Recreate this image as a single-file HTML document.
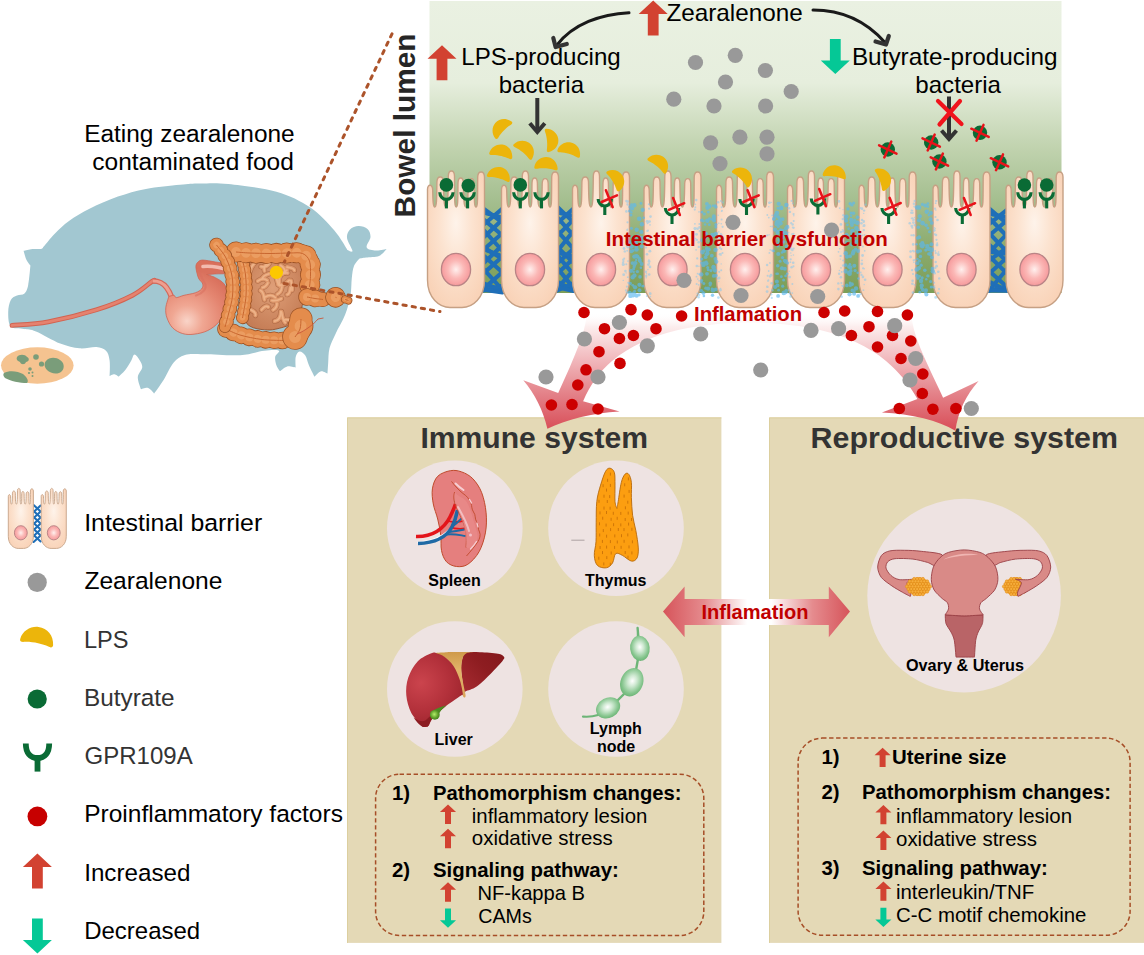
<!DOCTYPE html>
<html lang="en"><head><meta charset="utf-8"><title>Zearalenone gut figure</title>
<style>
html,body{margin:0;padding:0;background:#fff;}
svg{display:block;font-family:"Liberation Sans",Arial,sans-serif;}
.b{font-weight:700}
</style></head><body>
<svg width="1144" height="955" viewBox="0 0 1144 955">
<defs>
<linearGradient id="lum" x1="0" y1="0" x2="0" y2="1">
<stop offset="0" stop-color="#eaf1e2"/><stop offset="0.28" stop-color="#e6eedd"/><stop offset="0.50" stop-color="#c1d3af"/><stop offset="0.68" stop-color="#a5bf90"/><stop offset="0.85" stop-color="#8baa6d"/><stop offset="1" stop-color="#7b9e57"/>
</linearGradient>
<radialGradient id="cellg" cx="0.5" cy="0.42" r="0.62" fx="0.5" fy="0.38">
<stop offset="0" stop-color="#fef3ea"/><stop offset="0.45" stop-color="#fce3d0"/><stop offset="1" stop-color="#f9d3b8"/>
</radialGradient>
<radialGradient id="nucg" cx="0.5" cy="0.5" r="0.5">
<stop offset="0" stop-color="#fff0ee"/><stop offset="0.55" stop-color="#fbb8b6"/><stop offset="1" stop-color="#f69a9c"/>
</radialGradient>
<linearGradient id="arcg" gradientUnits="userSpaceOnUse" x1="0" y1="312" x2="0" y2="431">
<stop offset="0" stop-color="#ffffff" stop-opacity="0"/><stop offset="0.12" stop-color="#fceeee"/><stop offset="0.38" stop-color="#f2bcc0"/><stop offset="0.68" stop-color="#e4838a"/><stop offset="1" stop-color="#d84c56"/>
</linearGradient>
<linearGradient id="arrH" gradientUnits="userSpaceOnUse" x1="663" y1="0" x2="850" y2="0">
<stop offset="0" stop-color="#d6545a"/><stop offset="0.22" stop-color="#e58b8e"/><stop offset="0.45" stop-color="#ffffff"/><stop offset="0.58" stop-color="#ffffff"/><stop offset="0.8" stop-color="#e58b8e"/><stop offset="1" stop-color="#d6545a"/>
</linearGradient>
<g id="gpr" fill="none" stroke="#0a6b35" stroke-width="3.1" stroke-linecap="butt"><path d="M-6.65,-7.1 A6.65,7.1 0 0 0 6.65,-7.1"/><path d="M0,-0.5 V9"/></g>
<g id="rx" stroke="#e8131a" stroke-width="2.5" stroke-linecap="round"><path d="M-7.7,3.3 L7.7,-3.3"/><path d="M-3.4,-8.5 L3.4,8.5"/></g>
<path id="lps" d="M-11,2.8 C-10,-3 -5,-6.6 0,-6.6 C6,-6.6 10.6,-2 11,4.2 C11.2,5.9 9.5,6.3 8,5.6 C4,4.2 -3,3.5 -8,4.4 C-10,4.9 -11.3,4.3 -11,2.8 Z" fill="#ecb50b"/>
<path id="upA" d="M0,-17.5 L14.5,-4 H5.4 V17.5 H-5.4 V-4 H-14.5 Z" fill="#d24231"/>
<path id="dnA" d="M0,17.5 L14.5,4 H5.4 V-17.5 H-5.4 V4 H-14.5 Z" fill="#05c896"/>
</defs>

<path d="M10.8,326.6 C8.2,323.8 8.2,316.6 8.2,312.2 C8.2,307.8 9.3,302.8 10.8,300.0 C12.3,297.2 14.7,296.7 17.0,295.6 C19.3,294.5 22.6,295.3 24.5,293.5 C26.4,291.7 27.2,289.7 28.2,285.0 C29.2,280.3 30.4,265.5 30.4,265.5 C30.4,265.5 27.4,261.9 26.3,259.5 C25.2,257.1 23.6,250.8 23.6,250.8 C23.6,250.8 28.1,249.5 31.0,249.2 C33.9,248.9 39.0,249.3 41.0,249.0 C43.0,248.7 43.0,247.6 43.0,247.6 C43.0,247.6 50.7,238.0 55.0,233.6 C59.3,229.2 63.2,225.2 69.0,221.0 C74.8,216.8 81.8,212.6 90.0,208.5 C98.2,204.4 108.6,199.9 117.9,196.6 C127.2,193.3 135.6,190.9 145.9,188.9 C156.2,186.9 171.0,185.6 180.0,184.7 C189.0,183.8 192.0,183.6 200.0,183.5 C208.0,183.4 215.5,182.6 228.2,184.0 C240.9,185.4 262.8,187.8 276.4,191.7 C290.0,195.6 300.4,200.9 310.0,207.3 C319.6,213.7 327.9,223.1 334.2,230.2 C340.4,237.3 347.5,250.0 347.5,250.0 C347.5,250.0 352.6,253.0 352.5,251.0 C352.4,249.0 347.4,241.6 347.0,238.0 C346.6,234.4 348.1,231.5 350.0,229.5 C351.9,227.5 355.6,226.1 358.5,226.0 C361.4,225.9 365.5,227.2 367.5,229.0 C369.5,230.8 370.6,233.9 370.5,237.0 C370.4,240.1 365.8,245.2 366.7,247.5 C367.6,249.8 372.7,250.2 376.0,250.5 C379.3,250.8 386.5,249.0 386.5,249.0 C386.5,249.0 382.4,254.6 379.0,256.0 C375.6,257.4 369.2,257.1 366.0,257.5 C362.8,257.9 359.5,258.5 359.5,258.5 C359.5,258.5 355.3,262.8 354.0,266.0 C352.7,269.2 352.4,273.1 351.8,278.0 C351.2,282.9 351.6,289.2 350.5,295.3 C349.4,301.4 347.7,308.2 345.2,314.6 C342.7,321.0 338.1,328.3 335.5,333.9 C332.9,339.5 330.7,343.5 329.5,348.3 C328.3,353.1 328.5,358.6 328.2,362.8 C327.9,367.0 327.5,373.6 327.5,373.6 C327.5,373.6 323.2,370.7 321.0,371.2 C318.8,371.7 314.5,376.7 314.5,376.7 C314.5,376.7 310.4,368.7 308.9,365.2 C307.4,361.7 306.9,357.8 305.3,355.5 C303.7,353.2 301.1,351.2 299.5,351.5 C297.9,351.8 296.3,354.3 295.7,357.0 C295.1,359.7 295.7,367.6 295.7,367.6 C295.7,367.6 289.8,365.8 287.2,366.4 C284.6,367.0 280.0,371.2 280.0,371.2 C280.0,371.2 277.2,367.6 276.4,365.2 C275.6,362.8 274.8,359.1 275.2,356.7 C275.6,354.3 280.6,351.7 278.8,350.7 C277.0,349.7 270.7,349.9 264.3,350.7 C257.9,351.4 250.2,354.6 240.2,355.2 C230.1,355.8 213.2,354.3 204.0,354.3 C194.8,354.3 190.1,353.6 185.0,355.0 C179.9,356.4 177.0,358.7 173.5,362.8 C170.0,366.9 167.1,374.5 163.9,379.6 C160.7,384.7 154.2,393.6 154.2,393.6 C154.2,393.6 150.4,388.7 148.2,388.0 C146.0,387.3 141.0,389.3 141.0,389.3 C141.0,389.3 137.6,380.8 137.8,377.2 C138.0,373.6 141.9,370.4 142.2,367.6 C142.5,364.8 141.1,362.6 139.8,360.4 C138.5,358.2 135.9,354.5 134.5,354.5 C133.1,354.5 132.8,357.8 131.3,360.4 C129.8,363.0 127.4,367.3 125.3,370.0 C123.2,372.7 118.6,376.7 118.6,376.7 C118.6,376.7 116.0,374.4 114.5,374.3 C113.0,374.2 109.6,376.0 109.6,376.0 C109.6,376.0 110.2,364.6 109.6,360.4 C109.0,356.2 108.2,352.9 106.0,350.7 C103.8,348.5 100.8,347.4 96.4,347.0 C92.0,346.6 85.5,348.9 79.5,348.3 C73.5,347.7 67.5,346.3 60.2,343.5 C53.0,340.7 42.0,333.8 36.0,331.4 C30.0,329.0 28.2,329.8 24.0,329.0 C19.8,328.2 13.4,329.4 10.8,326.6 Z" fill="#a2c7d1"/>
<path d="M12.0,325.4 C18.0,324.8 34.1,324.4 48.2,321.8 C62.3,319.2 82.4,314.2 96.4,309.8 C110.5,305.4 123.2,300.1 132.5,295.3 C141.8,290.5 148.6,283.6 152.2,281.2 C155.8,278.8 153.7,281.0 154.0,281.0 " fill="none" stroke="#d26350" stroke-width="4.8" stroke-linecap="round"/>
<path d="M12.0,325.4 C18.0,324.8 34.1,324.4 48.2,321.8 C62.3,319.2 82.4,314.2 96.4,309.8 C110.5,305.4 123.2,300.1 132.5,295.3 C141.8,290.5 148.6,283.6 152.2,281.2 C155.8,278.8 153.7,281.0 154.0,281.0 " fill="none" stroke="#e5826f" stroke-width="2.8" stroke-linecap="round"/>
<ellipse cx="37.3" cy="365.5" rx="36.3" ry="18.2" fill="#f5c390"/>
<g fill="#7a9d7a"><path d="M17,357 C19,354 25,354 27,357 C30,358 29,362 26,362 C25,365 21,365 20,362 C17,361 16,359 17,357 Z"/><circle cx="36" cy="357" r="2.8"/><circle cx="41.5" cy="364" r="2.6"/><circle cx="30" cy="369" r="1.8"/><circle cx="29" cy="373" r="1.1"/><circle cx="32.5" cy="372.5" r="1"/><circle cx="32.5" cy="376" r="1"/><path d="M46,361 C49,357 56,357 60,360 C64,362 65,368 62,371 C58,375 51,374 47,370 C44,367 44,363 46,361 Z"/><path d="M4,373 C9,370 18,371 23,374 C27,377 29,381 27,383 C20,383 10,381 5,378 C3,376 3,374 4,373 Z"/></g>
<defs>
<radialGradient id="stg" gradientUnits="userSpaceOnUse" cx="187" cy="321" r="52"><stop offset="0" stop-color="#f9d4c8"/><stop offset="0.3" stop-color="#f0a793"/><stop offset="0.7" stop-color="#e48570"/><stop offset="1" stop-color="#d9705c"/></radialGradient>
<radialGradient id="sig" cx="0.5" cy="0.45" r="0.6"><stop offset="0" stop-color="#df9f78"/><stop offset="1" stop-color="#c47c55"/></radialGradient>
</defs>
<path d="M152.8,281 C158,280.8 163,283 166.5,287.5 C168.8,290.5 170.5,294 171.8,297.5" fill="none" stroke="#d4685a" stroke-width="5.4" stroke-linecap="butt"/>
<path d="M152.8,281 C158,280.8 163,283 166.5,287.5 C168.8,290.5 170.5,294 171.8,297.5" fill="none" stroke="#ee9f90" stroke-width="3.2" stroke-linecap="butt"/>
<path d="M173.9,295.3 C175.2,295.5 174.7,297.6 176.4,297.6 C178.1,297.6 180.8,296.1 184.0,295.3 C187.2,294.5 192.4,293.9 195.3,292.8 C198.2,291.8 200.3,290.5 201.6,289.0 C202.8,287.5 203.2,285.7 202.8,284.0 C202.4,282.3 199.9,280.7 199.0,279.0 C198.1,277.3 197.7,276.0 197.2,273.9 C196.7,271.8 195.8,268.4 195.9,266.4 C196.0,264.4 196.8,263.1 198.0,262.0 C199.2,260.9 199.9,260.1 202.8,260.1 C205.7,260.1 211.2,261.3 215.4,262.0 C219.6,262.7 225.3,263.2 227.9,264.5 C230.5,265.8 231.0,269.5 231.0,269.5 C231.0,269.5 230.5,272.6 227.9,273.3 C225.3,274.0 219.0,273.7 215.4,273.9 C211.8,274.1 206.6,274.5 206.6,274.5 C206.6,274.5 212.5,276.1 215.4,277.7 C218.3,279.3 222.0,281.1 224.2,284.0 C226.4,286.9 228.2,291.3 228.6,295.3 C229.0,299.3 228.3,303.4 226.7,307.8 C225.1,312.2 222.2,317.9 219.1,321.7 C215.9,325.5 212.0,328.4 207.8,330.5 C203.6,332.6 198.2,333.7 194.0,334.2 C189.8,334.7 186.2,334.7 182.7,333.6 C179.1,332.6 175.3,330.5 172.7,327.9 C170.1,325.3 168.2,321.2 167.0,317.9 C165.8,314.5 165.5,311.4 165.8,307.8 C166.1,304.2 168.9,296.5 168.9,296.5 C168.9,296.5 172.7,295.1 173.9,295.3 Z" fill="url(#stg)" stroke="#cf6453" stroke-width="0.8"/>
<path d="M203,266.5 C210,265.8 220,267.3 229,270.3" fill="none" stroke="#f5c3b8" stroke-width="3.6" stroke-linecap="round" opacity="0.9"/>
<path d="M199,268 C199.5,275 203,280 205.5,284.5 C206.5,289 203,293 196,295.5" fill="none" stroke="#d96f5f" stroke-width="2.2" stroke-linecap="round" opacity="0.55"/>
<path d="M244.0,256.0 C249.4,249.6 294.1,253.6 300.0,258.0 C305.9,262.4 303.4,293.6 303.0,300.0 C302.6,306.4 299.3,319.0 296.0,322.0 C292.7,325.0 275.0,330.0 270.0,330.0 C265.0,330.0 248.6,329.4 246.0,322.0 C243.4,314.6 238.6,262.4 244.0,256.0 Z" fill="url(#sig)" stroke="#8a4a2a" stroke-width="0.8"/>
<g fill="none" stroke-linecap="round"><g stroke="#9a5532" stroke-width="5.4" opacity="0.5"><path d="M260.5,290.5 Q263.5,291.6 264.5,299.7"/><path d="M249.8,309.4 Q256.5,312.2 255.4,315.4"/><path d="M290.4,287.6 Q289.9,294.0 287.2,294.6"/><path d="M276.9,303.6 Q277.1,307.5 273.1,309.9"/><path d="M269.5,262.9 Q267.0,267.9 261.0,266.7"/><path d="M281.6,312.1 Q283.0,320.8 285.2,322.6"/><path d="M287.0,267.1 Q294.4,268.2 294.3,270.4"/><path d="M279.7,276.3 Q278.4,281.4 279.5,285.2"/><path d="M280.9,311.5 Q280.6,320.3 274.6,321.2"/><path d="M286.9,270.1 Q284.8,273.2 276.2,275.1"/><path d="M287.7,273.0 Q281.7,272.0 279.1,277.9"/><path d="M284.3,319.9 Q288.9,318.6 294.9,322.9"/><path d="M268.3,307.0 Q265.8,304.7 261.6,309.8"/><path d="M289.2,280.4 Q283.7,286.5 278.1,284.7"/><path d="M266.7,264.1 Q263.2,266.8 264.5,270.9"/><path d="M273.2,271.5 Q277.4,275.9 284.5,273.0"/><path d="M290.9,280.5 Q292.6,286.1 292.0,290.1"/><path d="M281.3,298.7 Q276.1,301.3 271.9,300.5"/><path d="M267.2,280.4 Q262.8,276.9 257.7,281.1"/><path d="M265.2,296.9 Q271.3,293.7 275.3,297.5"/><path d="M281.9,286.8 Q281.3,292.4 277.3,294.2"/><path d="M256.1,261.5 Q251.0,266.2 249.9,271.6"/><path d="M276.3,278.0 Q277.0,282.6 279.9,285.8"/><path d="M267.9,282.9 Q265.8,287.1 262.5,287.6"/><path d="M269.0,273.8 Q263.1,275.6 262.3,278.5"/><path d="M280.4,265.3 Q285.4,268.5 285.0,272.7"/></g><g stroke="#e09a6e" stroke-width="4"><path d="M260.5,290.5 Q263.5,291.6 264.5,299.7"/><path d="M249.8,309.4 Q256.5,312.2 255.4,315.4"/><path d="M290.4,287.6 Q289.9,294.0 287.2,294.6"/><path d="M276.9,303.6 Q277.1,307.5 273.1,309.9"/><path d="M269.5,262.9 Q267.0,267.9 261.0,266.7"/><path d="M281.6,312.1 Q283.0,320.8 285.2,322.6"/><path d="M287.0,267.1 Q294.4,268.2 294.3,270.4"/><path d="M279.7,276.3 Q278.4,281.4 279.5,285.2"/><path d="M280.9,311.5 Q280.6,320.3 274.6,321.2"/><path d="M286.9,270.1 Q284.8,273.2 276.2,275.1"/><path d="M287.7,273.0 Q281.7,272.0 279.1,277.9"/><path d="M284.3,319.9 Q288.9,318.6 294.9,322.9"/><path d="M268.3,307.0 Q265.8,304.7 261.6,309.8"/><path d="M289.2,280.4 Q283.7,286.5 278.1,284.7"/><path d="M266.7,264.1 Q263.2,266.8 264.5,270.9"/><path d="M273.2,271.5 Q277.4,275.9 284.5,273.0"/><path d="M290.9,280.5 Q292.6,286.1 292.0,290.1"/><path d="M281.3,298.7 Q276.1,301.3 271.9,300.5"/><path d="M267.2,280.4 Q262.8,276.9 257.7,281.1"/><path d="M265.2,296.9 Q271.3,293.7 275.3,297.5"/><path d="M281.9,286.8 Q281.3,292.4 277.3,294.2"/><path d="M256.1,261.5 Q251.0,266.2 249.9,271.6"/><path d="M276.3,278.0 Q277.0,282.6 279.9,285.8"/><path d="M267.9,282.9 Q265.8,287.1 262.5,287.6"/><path d="M269.0,273.8 Q263.1,275.6 262.3,278.5"/><path d="M280.4,265.3 Q285.4,268.5 285.0,272.7"/></g><g stroke="#f0b88e" stroke-width="1.7" opacity="0.85"><path d="M260.5,290.5 Q263.5,291.6 264.5,299.7"/><path d="M249.8,309.4 Q256.5,312.2 255.4,315.4"/><path d="M290.4,287.6 Q289.9,294.0 287.2,294.6"/><path d="M276.9,303.6 Q277.1,307.5 273.1,309.9"/><path d="M269.5,262.9 Q267.0,267.9 261.0,266.7"/><path d="M281.6,312.1 Q283.0,320.8 285.2,322.6"/><path d="M287.0,267.1 Q294.4,268.2 294.3,270.4"/><path d="M279.7,276.3 Q278.4,281.4 279.5,285.2"/><path d="M280.9,311.5 Q280.6,320.3 274.6,321.2"/><path d="M286.9,270.1 Q284.8,273.2 276.2,275.1"/><path d="M287.7,273.0 Q281.7,272.0 279.1,277.9"/><path d="M284.3,319.9 Q288.9,318.6 294.9,322.9"/><path d="M268.3,307.0 Q265.8,304.7 261.6,309.8"/><path d="M289.2,280.4 Q283.7,286.5 278.1,284.7"/><path d="M266.7,264.1 Q263.2,266.8 264.5,270.9"/><path d="M273.2,271.5 Q277.4,275.9 284.5,273.0"/><path d="M290.9,280.5 Q292.6,286.1 292.0,290.1"/><path d="M281.3,298.7 Q276.1,301.3 271.9,300.5"/><path d="M267.2,280.4 Q262.8,276.9 257.7,281.1"/><path d="M265.2,296.9 Q271.3,293.7 275.3,297.5"/><path d="M281.9,286.8 Q281.3,292.4 277.3,294.2"/><path d="M256.1,261.5 Q251.0,266.2 249.9,271.6"/><path d="M276.3,278.0 Q277.0,282.6 279.9,285.8"/><path d="M267.9,282.9 Q265.8,287.1 262.5,287.6"/><path d="M269.0,273.8 Q263.1,275.6 262.3,278.5"/><path d="M280.4,265.3 Q285.4,268.5 285.0,272.7"/></g></g>
<path d="M242.0,258.0 C242.6,260.8 244.8,268.7 245.5,275.0 C246.2,281.3 246.5,288.8 246.0,296.0 C245.5,303.2 243.1,314.3 242.5,318.0 " fill="none" stroke="#9c5224" stroke-width="13.1" stroke-linecap="round" stroke-dasharray="0.01 6.0"/><path d="M242.0,258.0 C242.6,260.8 244.8,268.7 245.5,275.0 C246.2,281.3 246.5,288.8 246.0,296.0 C245.5,303.2 243.1,314.3 242.5,318.0 " fill="none" stroke="#9c5224" stroke-width="10.5" stroke-linecap="round"/><path d="M242.0,258.0 C242.6,260.8 244.8,268.7 245.5,275.0 C246.2,281.3 246.5,288.8 246.0,296.0 C245.5,303.2 243.1,314.3 242.5,318.0 " fill="none" stroke="#e48c4c" stroke-width="11.5" stroke-linecap="round" stroke-dasharray="0.01 6.0"/><path d="M242.0,258.0 C242.6,260.8 244.8,268.7 245.5,275.0 C246.2,281.3 246.5,288.8 246.0,296.0 C245.5,303.2 243.1,314.3 242.5,318.0 " fill="none" stroke="#e48c4c" stroke-width="9.1" stroke-linecap="round"/><path d="M242.0,258.0 C242.6,260.8 244.8,268.7 245.5,275.0 C246.2,281.3 246.5,288.8 246.0,296.0 C245.5,303.2 243.1,314.3 242.5,318.0 " fill="none" stroke="#f4b27c" stroke-width="5.8" stroke-linecap="round" stroke-dasharray="0.01 6.0" opacity="0.45"/><path d="M242.0,258.0 C242.6,260.8 244.8,268.7 245.5,275.0 C246.2,281.3 246.5,288.8 246.0,296.0 C245.5,303.2 243.1,314.3 242.5,318.0 " fill="none" stroke="#c4602a" stroke-width="1" opacity="0.9"/>
<path d="M226.0,329.0 C228.3,330.0 234.0,333.2 240.0,335.0 C246.0,336.8 254.8,338.6 262.0,339.5 C269.2,340.4 279.5,340.3 283.0,340.5 " fill="none" stroke="#9c5224" stroke-width="17.6" stroke-linecap="round" stroke-dasharray="0.01 8.3"/><path d="M226.0,329.0 C228.3,330.0 234.0,333.2 240.0,335.0 C246.0,336.8 254.8,338.6 262.0,339.5 C269.2,340.4 279.5,340.3 283.0,340.5 " fill="none" stroke="#9c5224" stroke-width="15" stroke-linecap="round"/><path d="M226.0,329.0 C228.3,330.0 234.0,333.2 240.0,335.0 C246.0,336.8 254.8,338.6 262.0,339.5 C269.2,340.4 279.5,340.3 283.0,340.5 " fill="none" stroke="#e48c4c" stroke-width="16" stroke-linecap="round" stroke-dasharray="0.01 8.3"/><path d="M226.0,329.0 C228.3,330.0 234.0,333.2 240.0,335.0 C246.0,336.8 254.8,338.6 262.0,339.5 C269.2,340.4 279.5,340.3 283.0,340.5 " fill="none" stroke="#e48c4c" stroke-width="13.6" stroke-linecap="round"/><path d="M226.0,329.0 C228.3,330.0 234.0,333.2 240.0,335.0 C246.0,336.8 254.8,338.6 262.0,339.5 C269.2,340.4 279.5,340.3 283.0,340.5 " fill="none" stroke="#f4b27c" stroke-width="8.0" stroke-linecap="round" stroke-dasharray="0.01 8.3" opacity="0.45"/><path d="M226.0,329.0 C228.3,330.0 234.0,333.2 240.0,335.0 C246.0,336.8 254.8,338.6 262.0,339.5 C269.2,340.4 279.5,340.3 283.0,340.5 " fill="none" stroke="#c4602a" stroke-width="1" opacity="0.9"/>
<path d="M295.0,337.0 C295.8,335.7 299.0,332.0 300.0,329.0 C301.0,326.0 300.8,320.7 301.0,319.0 " fill="none" stroke="#9c5224" stroke-width="25.6" stroke-linecap="round" stroke-dasharray="0.01 12.5"/><path d="M295.0,337.0 C295.8,335.7 299.0,332.0 300.0,329.0 C301.0,326.0 300.8,320.7 301.0,319.0 " fill="none" stroke="#9c5224" stroke-width="23" stroke-linecap="round"/><path d="M295.0,337.0 C295.8,335.7 299.0,332.0 300.0,329.0 C301.0,326.0 300.8,320.7 301.0,319.0 " fill="none" stroke="#e48c4c" stroke-width="24" stroke-linecap="round" stroke-dasharray="0.01 12.5"/><path d="M295.0,337.0 C295.8,335.7 299.0,332.0 300.0,329.0 C301.0,326.0 300.8,320.7 301.0,319.0 " fill="none" stroke="#e48c4c" stroke-width="21.6" stroke-linecap="round"/><path d="M295.0,337.0 C295.8,335.7 299.0,332.0 300.0,329.0 C301.0,326.0 300.8,320.7 301.0,319.0 " fill="none" stroke="#f4b27c" stroke-width="12.0" stroke-linecap="round" stroke-dasharray="0.01 12.5" opacity="0.45"/><path d="M295.0,337.0 C295.8,335.7 299.0,332.0 300.0,329.0 C301.0,326.0 300.8,320.7 301.0,319.0 " fill="none" stroke="#c4602a" stroke-width="1" opacity="0.9"/>
<path d="M236.0,252.0 C238.3,252.2 244.3,252.8 250.0,253.0 C255.7,253.2 263.3,253.5 270.0,253.5 C276.7,253.5 284.6,253.0 290.0,253.0 C295.4,253.0 299.2,252.2 302.5,253.5 C305.8,254.8 308.2,257.4 309.5,261.0 C310.8,264.6 310.5,270.7 310.5,275.0 C310.5,279.3 309.7,285.0 309.5,287.0 " fill="none" stroke="#9c5224" stroke-width="21.1" stroke-linecap="round" stroke-dasharray="0.01 10.1"/><path d="M236.0,252.0 C238.3,252.2 244.3,252.8 250.0,253.0 C255.7,253.2 263.3,253.5 270.0,253.5 C276.7,253.5 284.6,253.0 290.0,253.0 C295.4,253.0 299.2,252.2 302.5,253.5 C305.8,254.8 308.2,257.4 309.5,261.0 C310.8,264.6 310.5,270.7 310.5,275.0 C310.5,279.3 309.7,285.0 309.5,287.0 " fill="none" stroke="#9c5224" stroke-width="18.5" stroke-linecap="round"/><path d="M236.0,252.0 C238.3,252.2 244.3,252.8 250.0,253.0 C255.7,253.2 263.3,253.5 270.0,253.5 C276.7,253.5 284.6,253.0 290.0,253.0 C295.4,253.0 299.2,252.2 302.5,253.5 C305.8,254.8 308.2,257.4 309.5,261.0 C310.8,264.6 310.5,270.7 310.5,275.0 C310.5,279.3 309.7,285.0 309.5,287.0 " fill="none" stroke="#e48c4c" stroke-width="19.5" stroke-linecap="round" stroke-dasharray="0.01 10.1"/><path d="M236.0,252.0 C238.3,252.2 244.3,252.8 250.0,253.0 C255.7,253.2 263.3,253.5 270.0,253.5 C276.7,253.5 284.6,253.0 290.0,253.0 C295.4,253.0 299.2,252.2 302.5,253.5 C305.8,254.8 308.2,257.4 309.5,261.0 C310.8,264.6 310.5,270.7 310.5,275.0 C310.5,279.3 309.7,285.0 309.5,287.0 " fill="none" stroke="#e48c4c" stroke-width="17.1" stroke-linecap="round"/><path d="M236.0,252.0 C238.3,252.2 244.3,252.8 250.0,253.0 C255.7,253.2 263.3,253.5 270.0,253.5 C276.7,253.5 284.6,253.0 290.0,253.0 C295.4,253.0 299.2,252.2 302.5,253.5 C305.8,254.8 308.2,257.4 309.5,261.0 C310.8,264.6 310.5,270.7 310.5,275.0 C310.5,279.3 309.7,285.0 309.5,287.0 " fill="none" stroke="#f4b27c" stroke-width="9.8" stroke-linecap="round" stroke-dasharray="0.01 10.1" opacity="0.45"/><path d="M236.0,252.0 C238.3,252.2 244.3,252.8 250.0,253.0 C255.7,253.2 263.3,253.5 270.0,253.5 C276.7,253.5 284.6,253.0 290.0,253.0 C295.4,253.0 299.2,252.2 302.5,253.5 C305.8,254.8 308.2,257.4 309.5,261.0 C310.8,264.6 310.5,270.7 310.5,275.0 C310.5,279.3 309.7,285.0 309.5,287.0 " fill="none" stroke="#c4602a" stroke-width="1" opacity="0.9"/>
<path d="M307.0,297.0 C308.3,297.2 312.3,298.1 315.0,298.5 C317.7,298.9 321.7,299.3 323.0,299.5 " fill="none" stroke="#9c5224" stroke-width="17.6" stroke-linecap="round" stroke-dasharray="0.01 8.3"/><path d="M307.0,297.0 C308.3,297.2 312.3,298.1 315.0,298.5 C317.7,298.9 321.7,299.3 323.0,299.5 " fill="none" stroke="#9c5224" stroke-width="15" stroke-linecap="round"/><path d="M307.0,297.0 C308.3,297.2 312.3,298.1 315.0,298.5 C317.7,298.9 321.7,299.3 323.0,299.5 " fill="none" stroke="#e48c4c" stroke-width="16" stroke-linecap="round" stroke-dasharray="0.01 8.3"/><path d="M307.0,297.0 C308.3,297.2 312.3,298.1 315.0,298.5 C317.7,298.9 321.7,299.3 323.0,299.5 " fill="none" stroke="#e48c4c" stroke-width="13.6" stroke-linecap="round"/><path d="M307.0,297.0 C308.3,297.2 312.3,298.1 315.0,298.5 C317.7,298.9 321.7,299.3 323.0,299.5 " fill="none" stroke="#f4b27c" stroke-width="8.0" stroke-linecap="round" stroke-dasharray="0.01 8.3" opacity="0.45"/><path d="M307.0,297.0 C308.3,297.2 312.3,298.1 315.0,298.5 C317.7,298.9 321.7,299.3 323.0,299.5 " fill="none" stroke="#c4602a" stroke-width="1" opacity="0.9"/>
<path d="M335.5,297.3 C335.7,297.4 336.3,297.6 336.5,297.6 " fill="none" stroke="#9c5224" stroke-width="20.6" stroke-linecap="round" stroke-dasharray="0.01 9.9"/><path d="M335.5,297.3 C335.7,297.4 336.3,297.6 336.5,297.6 " fill="none" stroke="#9c5224" stroke-width="18" stroke-linecap="round"/><path d="M335.5,297.3 C335.7,297.4 336.3,297.6 336.5,297.6 " fill="none" stroke="#e48c4c" stroke-width="19" stroke-linecap="round" stroke-dasharray="0.01 9.9"/><path d="M335.5,297.3 C335.7,297.4 336.3,297.6 336.5,297.6 " fill="none" stroke="#e48c4c" stroke-width="16.6" stroke-linecap="round"/><path d="M335.5,297.3 C335.7,297.4 336.3,297.6 336.5,297.6 " fill="none" stroke="#f4b27c" stroke-width="9.5" stroke-linecap="round" stroke-dasharray="0.01 9.9" opacity="0.45"/><path d="M335.5,297.3 C335.7,297.4 336.3,297.6 336.5,297.6 " fill="none" stroke="#c4602a" stroke-width="1" opacity="0.9"/>
<path d="M345.0,299.3 C345.6,299.5 347.9,300.4 348.5,300.6 " fill="none" stroke="#9c5224" stroke-width="8.1" stroke-linecap="round" stroke-dasharray="0.01 3.4"/><path d="M345.0,299.3 C345.6,299.5 347.9,300.4 348.5,300.6 " fill="none" stroke="#9c5224" stroke-width="5.5" stroke-linecap="round"/><path d="M345.0,299.3 C345.6,299.5 347.9,300.4 348.5,300.6 " fill="none" stroke="#e48c4c" stroke-width="6.5" stroke-linecap="round" stroke-dasharray="0.01 3.4"/><path d="M345.0,299.3 C345.6,299.5 347.9,300.4 348.5,300.6 " fill="none" stroke="#e48c4c" stroke-width="4.1" stroke-linecap="round"/><path d="M345.0,299.3 C345.6,299.5 347.9,300.4 348.5,300.6 " fill="none" stroke="#f4b27c" stroke-width="3.2" stroke-linecap="round" stroke-dasharray="0.01 3.4" opacity="0.45"/><path d="M345.0,299.3 C345.6,299.5 347.9,300.4 348.5,300.6 " fill="none" stroke="#c4602a" stroke-width="1" opacity="0.9"/>
<path d="M216.5,245.0 C218.1,247.2 223.4,252.8 226.0,258.0 C228.6,263.2 230.9,269.7 232.0,276.0 C233.1,282.3 233.1,289.7 232.5,296.0 C231.9,302.3 229.8,308.8 228.5,314.0 C227.2,319.2 225.6,324.8 225.0,327.0 " fill="none" stroke="#9c5224" stroke-width="14.6" stroke-linecap="round" stroke-dasharray="0.01 6.8"/><path d="M216.5,245.0 C218.1,247.2 223.4,252.8 226.0,258.0 C228.6,263.2 230.9,269.7 232.0,276.0 C233.1,282.3 233.1,289.7 232.5,296.0 C231.9,302.3 229.8,308.8 228.5,314.0 C227.2,319.2 225.6,324.8 225.0,327.0 " fill="none" stroke="#9c5224" stroke-width="12" stroke-linecap="round"/><path d="M216.5,245.0 C218.1,247.2 223.4,252.8 226.0,258.0 C228.6,263.2 230.9,269.7 232.0,276.0 C233.1,282.3 233.1,289.7 232.5,296.0 C231.9,302.3 229.8,308.8 228.5,314.0 C227.2,319.2 225.6,324.8 225.0,327.0 " fill="none" stroke="#e48c4c" stroke-width="13" stroke-linecap="round" stroke-dasharray="0.01 6.8"/><path d="M216.5,245.0 C218.1,247.2 223.4,252.8 226.0,258.0 C228.6,263.2 230.9,269.7 232.0,276.0 C233.1,282.3 233.1,289.7 232.5,296.0 C231.9,302.3 229.8,308.8 228.5,314.0 C227.2,319.2 225.6,324.8 225.0,327.0 " fill="none" stroke="#e48c4c" stroke-width="10.6" stroke-linecap="round"/><path d="M216.5,245.0 C218.1,247.2 223.4,252.8 226.0,258.0 C228.6,263.2 230.9,269.7 232.0,276.0 C233.1,282.3 233.1,289.7 232.5,296.0 C231.9,302.3 229.8,308.8 228.5,314.0 C227.2,319.2 225.6,324.8 225.0,327.0 " fill="none" stroke="#f4b27c" stroke-width="6.5" stroke-linecap="round" stroke-dasharray="0.01 6.8" opacity="0.45"/><path d="M216.5,245.0 C218.1,247.2 223.4,252.8 226.0,258.0 C228.6,263.2 230.9,269.7 232.0,276.0 C233.1,282.3 233.1,289.7 232.5,296.0 C231.9,302.3 229.8,308.8 228.5,314.0 C227.2,319.2 225.6,324.8 225.0,327.0 " fill="none" stroke="#c4602a" stroke-width="1" opacity="0.9"/>
<path d="M297,334 C305,331 314,324 318,319 L323.5,318" fill="none" stroke="#c9583a" stroke-width="0.9"/>
<circle cx="276.4" cy="272.4" r="6.6" fill="#fcc800"/>
<g fill="none" stroke="#ac532a" stroke-width="3" stroke-linecap="round" stroke-dasharray="3.3 6"><path d="M392,33.8 L284.4,262"/><path d="M284,283.4 L440,311.6"/></g>
<g font-size="23" fill="#000">
<text x="84.2" y="141.5" textLength="210.5" lengthAdjust="spacingAndGlyphs">Eating zearalenone</text>
<text x="92.3" y="169.5" textLength="201.5" lengthAdjust="spacingAndGlyphs">contaminated food</text>
</g>

<rect x="429.5" y="1" width="632" height="292" fill="url(#lum)"/>
<g stroke="#1f6fb8" stroke-width="4.1" stroke-linecap="round" fill="none"><path d="M483.5,208.7 L502.5,222.5"/><path d="M502.5,208.5 L483.5,224.7"/><path d="M483.5,212.5 L502.5,217.7"/><path d="M483.5,219.4 L502.5,235.5"/><path d="M502.5,219.5 L483.5,237.4"/><path d="M483.5,229.8 L502.5,251.0"/><path d="M502.5,233.0 L483.5,249.8"/><path d="M483.5,247.3 L502.5,259.1"/><path d="M502.5,245.1 L483.5,263.3"/><path d="M483.5,249.1 L502.5,256.3"/><path d="M483.5,255.4 L502.5,272.5"/><path d="M502.5,256.5 L483.5,273.4"/><path d="M483.5,268.9 L502.5,290.0"/><path d="M502.5,272.0 L483.5,288.9"/><path d="M483.5,283.4 L502.5,290.5"/><path d="M502.5,285.8 L483.5,290.5"/><path d="M483.5,289.8 L502.5,292.4"/></g>
<g stroke="#1f6fb8" stroke-width="4.1" stroke-linecap="round" fill="none"><path d="M557.5,206.9 L573.5,222.4"/><path d="M573.5,208.4 L557.5,222.9"/><path d="M557.5,212.4 L573.5,215.9"/><path d="M557.5,217.6 L573.5,235.6"/><path d="M573.5,219.6 L557.5,235.6"/><path d="M557.5,231.1 L573.5,248.8"/><path d="M573.5,230.8 L557.5,251.1"/><path d="M557.5,247.2 L573.5,262.7"/><path d="M573.5,248.7 L557.5,263.2"/><path d="M557.5,252.7 L573.5,256.2"/><path d="M557.5,255.4 L573.5,274.6"/><path d="M573.5,258.6 L557.5,273.4"/><path d="M557.5,268.1 L573.5,288.1"/><path d="M573.5,270.1 L557.5,288.1"/><path d="M557.5,281.9 L573.5,290.5"/><path d="M573.5,283.2 L557.5,290.5"/><path d="M557.5,287.2 L573.5,290.9"/></g>
<g stroke="#1f6fb8" stroke-width="4.1" stroke-linecap="round" fill="none"><path d="M989.0,208.2 L1007.0,223.8"/><path d="M1007.0,209.8 L989.0,224.2"/><path d="M989.0,213.8 L1007.0,217.2"/><path d="M989.0,217.8 L1007.0,236.3"/><path d="M1007.0,220.3 L989.0,235.8"/><path d="M989.0,232.8 L1007.0,251.8"/><path d="M1007.0,233.8 L989.0,252.8"/><path d="M989.0,244.6 L1007.0,261.6"/><path d="M1007.0,247.6 L989.0,260.6"/><path d="M989.0,251.6 L1007.0,253.6"/><path d="M989.0,255.8 L1007.0,273.6"/><path d="M1007.0,257.6 L989.0,273.8"/><path d="M989.0,270.8 L1007.0,287.0"/><path d="M1007.0,269.0 L989.0,290.5"/><path d="M989.0,281.7 L1007.0,290.5"/><path d="M1007.0,286.5 L989.0,290.5"/><path d="M989.0,290.5 L1007.0,290.7"/></g>
<path d="M427.5,280 V189.3 C427.7,183.7 432.5,183.7 432.7,190.3 C432.9,199.0 432.9,207.0 434.8,207.0 C436.7,207.0 436.7,199.0 436.9,182.0 L436.9,182.0 C437.1,175.4 443.3,175.4 443.5,182.0 C443.7,199.0 444.0,207.0 445.9,207.0 C447.8,207.0 448.1,199.0 448.3,176.0 L448.3,176.0 C448.5,169.4 454.3,169.4 454.5,176.0 C454.7,199.0 454.4,207.0 456.2,207.0 C458.1,207.0 457.8,199.0 458.0,183.0 L458.0,183.0 C458.2,176.4 463.2,176.4 463.4,183.0 C463.6,199.0 463.9,207.0 465.8,207.0 C467.7,207.0 468.0,199.0 468.2,183.6 L468.2,183.6 C468.4,177.0 474.0,177.0 474.2,183.6 C474.4,199.0 474.1,207.0 476.0,207.0 C477.9,207.0 477.5,199.0 477.7,177.0 L477.7,177.0 C477.9,170.4 484.3,170.4 484.5,177.0 L484.5,280 C484.5,298 472.5,307.5 462.0,307.5 H450.0 C439.5,307.5 427.5,298 427.5,280 Z" fill="url(#cellg)" stroke="#c6a084" stroke-width="1.4" stroke-linejoin="round"/>
<ellipse cx="456.0" cy="269.5" rx="14.6" ry="16.2" fill="url(#nucg)" stroke="#b98486" stroke-width="1.3"/>
<path d="M501.5,280 V189.3 C501.7,183.7 506.5,183.7 506.7,190.3 C506.9,199.0 506.9,207.0 508.8,207.0 C510.7,207.0 510.7,199.0 510.9,182.0 L510.9,182.0 C511.1,175.4 517.3,175.4 517.5,182.0 C517.7,199.0 518.0,207.0 519.9,207.0 C521.8,207.0 522.1,199.0 522.3,176.0 L522.3,176.0 C522.5,169.4 528.3,169.4 528.5,176.0 C528.7,199.0 528.4,207.0 530.2,207.0 C532.1,207.0 531.8,199.0 532.0,183.0 L532.0,183.0 C532.2,176.4 537.2,176.4 537.4,183.0 C537.6,199.0 537.9,207.0 539.8,207.0 C541.7,207.0 542.0,199.0 542.2,183.6 L542.2,183.6 C542.4,177.0 548.0,177.0 548.2,183.6 C548.4,199.0 548.1,207.0 550.0,207.0 C551.9,207.0 551.5,199.0 551.7,177.0 L551.7,177.0 C551.9,170.4 558.3,170.4 558.5,177.0 L558.5,280 C558.5,298 546.5,307.5 536.0,307.5 H524.0 C513.5,307.5 501.5,298 501.5,280 Z" fill="url(#cellg)" stroke="#c6a084" stroke-width="1.4" stroke-linejoin="round"/>
<ellipse cx="530.0" cy="269.5" rx="14.6" ry="16.2" fill="url(#nucg)" stroke="#b98486" stroke-width="1.3"/>
<path d="M572.5,280 V189.3 C572.7,183.7 577.5,183.7 577.7,190.3 C577.9,199.0 577.9,207.0 579.8,207.0 C581.7,207.0 581.7,199.0 581.9,182.0 L581.9,182.0 C582.1,175.4 588.3,175.4 588.5,182.0 C588.7,199.0 589.0,207.0 590.9,207.0 C592.8,207.0 593.1,199.0 593.3,176.0 L593.3,176.0 C593.5,169.4 599.3,169.4 599.5,176.0 C599.7,199.0 599.4,207.0 601.2,207.0 C603.1,207.0 602.8,199.0 603.0,183.0 L603.0,183.0 C603.2,176.4 608.2,176.4 608.4,183.0 C608.6,199.0 608.9,207.0 610.8,207.0 C612.7,207.0 613.0,199.0 613.2,183.6 L613.2,183.6 C613.4,177.0 619.0,177.0 619.2,183.6 C619.4,199.0 619.1,207.0 621.0,207.0 C622.9,207.0 622.5,199.0 622.7,177.0 L622.7,177.0 C622.9,170.4 629.3,170.4 629.5,177.0 L629.5,280 C629.5,298 617.5,307.5 607.0,307.5 H595.0 C584.5,307.5 572.5,298 572.5,280 Z" fill="url(#cellg)" stroke="#c6a084" stroke-width="1.4" stroke-linejoin="round"/>
<ellipse cx="601.0" cy="269.5" rx="14.6" ry="16.2" fill="url(#nucg)" stroke="#b98486" stroke-width="1.3"/>
<path d="M644.0,280 V189.3 C644.2,183.7 649.0,183.7 649.2,190.3 C649.4,199.0 649.4,207.0 651.3,207.0 C653.2,207.0 653.2,199.0 653.4,182.0 L653.4,182.0 C653.6,175.4 659.8,175.4 660.0,182.0 C660.2,199.0 660.5,207.0 662.4,207.0 C664.3,207.0 664.6,199.0 664.8,176.0 L664.8,176.0 C665.0,169.4 670.8,169.4 671.0,176.0 C671.2,199.0 670.9,207.0 672.8,207.0 C674.6,207.0 674.3,199.0 674.5,183.0 L674.5,183.0 C674.7,176.4 679.7,176.4 679.9,183.0 C680.1,199.0 680.4,207.0 682.3,207.0 C684.2,207.0 684.5,199.0 684.7,183.6 L684.7,183.6 C684.9,177.0 690.5,177.0 690.7,183.6 C690.9,199.0 690.6,207.0 692.5,207.0 C694.4,207.0 694.0,199.0 694.2,177.0 L694.2,177.0 C694.4,170.4 700.8,170.4 701.0,177.0 L701.0,280 C701.0,298 689.0,307.5 678.5,307.5 H666.5 C656.0,307.5 644.0,298 644.0,280 Z" fill="url(#cellg)" stroke="#c6a084" stroke-width="1.4" stroke-linejoin="round"/>
<ellipse cx="672.5" cy="269.5" rx="14.6" ry="16.2" fill="url(#nucg)" stroke="#b98486" stroke-width="1.3"/>
<path d="M716.5,280 V189.3 C716.7,183.7 721.5,183.7 721.7,190.3 C721.9,199.0 721.9,207.0 723.8,207.0 C725.7,207.0 725.7,199.0 725.9,182.0 L725.9,182.0 C726.1,175.4 732.3,175.4 732.5,182.0 C732.7,199.0 733.0,207.0 734.9,207.0 C736.8,207.0 737.1,199.0 737.3,176.0 L737.3,176.0 C737.5,169.4 743.3,169.4 743.5,176.0 C743.7,199.0 743.4,207.0 745.2,207.0 C747.1,207.0 746.8,199.0 747.0,183.0 L747.0,183.0 C747.2,176.4 752.2,176.4 752.4,183.0 C752.6,199.0 752.9,207.0 754.8,207.0 C756.7,207.0 757.0,199.0 757.2,183.6 L757.2,183.6 C757.4,177.0 763.0,177.0 763.2,183.6 C763.4,199.0 763.1,207.0 765.0,207.0 C766.9,207.0 766.5,199.0 766.7,177.0 L766.7,177.0 C766.9,170.4 773.3,170.4 773.5,177.0 L773.5,280 C773.5,298 761.5,307.5 751.0,307.5 H739.0 C728.5,307.5 716.5,298 716.5,280 Z" fill="url(#cellg)" stroke="#c6a084" stroke-width="1.4" stroke-linejoin="round"/>
<ellipse cx="745.0" cy="269.5" rx="14.6" ry="16.2" fill="url(#nucg)" stroke="#b98486" stroke-width="1.3"/>
<path d="M787.5,280 V189.3 C787.7,183.7 792.5,183.7 792.7,190.3 C792.9,199.0 792.9,207.0 794.8,207.0 C796.7,207.0 796.7,199.0 796.9,182.0 L796.9,182.0 C797.1,175.4 803.3,175.4 803.5,182.0 C803.7,199.0 804.0,207.0 805.9,207.0 C807.8,207.0 808.1,199.0 808.3,176.0 L808.3,176.0 C808.5,169.4 814.3,169.4 814.5,176.0 C814.7,199.0 814.4,207.0 816.2,207.0 C818.1,207.0 817.8,199.0 818.0,183.0 L818.0,183.0 C818.2,176.4 823.2,176.4 823.4,183.0 C823.6,199.0 823.9,207.0 825.8,207.0 C827.7,207.0 828.0,199.0 828.2,183.6 L828.2,183.6 C828.4,177.0 834.0,177.0 834.2,183.6 C834.4,199.0 834.1,207.0 836.0,207.0 C837.9,207.0 837.5,199.0 837.7,177.0 L837.7,177.0 C837.9,170.4 844.3,170.4 844.5,177.0 L844.5,280 C844.5,298 832.5,307.5 822.0,307.5 H810.0 C799.5,307.5 787.5,298 787.5,280 Z" fill="url(#cellg)" stroke="#c6a084" stroke-width="1.4" stroke-linejoin="round"/>
<ellipse cx="816.0" cy="269.5" rx="14.6" ry="16.2" fill="url(#nucg)" stroke="#b98486" stroke-width="1.3"/>
<path d="M859.0,280 V189.3 C859.2,183.7 864.0,183.7 864.2,190.3 C864.4,199.0 864.4,207.0 866.3,207.0 C868.2,207.0 868.2,199.0 868.4,182.0 L868.4,182.0 C868.6,175.4 874.8,175.4 875.0,182.0 C875.2,199.0 875.5,207.0 877.4,207.0 C879.3,207.0 879.6,199.0 879.8,176.0 L879.8,176.0 C880.0,169.4 885.8,169.4 886.0,176.0 C886.2,199.0 885.9,207.0 887.8,207.0 C889.6,207.0 889.3,199.0 889.5,183.0 L889.5,183.0 C889.7,176.4 894.7,176.4 894.9,183.0 C895.1,199.0 895.4,207.0 897.3,207.0 C899.2,207.0 899.5,199.0 899.7,183.6 L899.7,183.6 C899.9,177.0 905.5,177.0 905.7,183.6 C905.9,199.0 905.6,207.0 907.5,207.0 C909.4,207.0 909.0,199.0 909.2,177.0 L909.2,177.0 C909.4,170.4 915.8,170.4 916.0,177.0 L916.0,280 C916.0,298 904.0,307.5 893.5,307.5 H881.5 C871.0,307.5 859.0,298 859.0,280 Z" fill="url(#cellg)" stroke="#c6a084" stroke-width="1.4" stroke-linejoin="round"/>
<ellipse cx="887.5" cy="269.5" rx="14.6" ry="16.2" fill="url(#nucg)" stroke="#b98486" stroke-width="1.3"/>
<path d="M933.0,280 V189.3 C933.2,183.7 938.0,183.7 938.2,190.3 C938.4,199.0 938.4,207.0 940.3,207.0 C942.2,207.0 942.2,199.0 942.4,182.0 L942.4,182.0 C942.6,175.4 948.8,175.4 949.0,182.0 C949.2,199.0 949.5,207.0 951.4,207.0 C953.3,207.0 953.6,199.0 953.8,176.0 L953.8,176.0 C954.0,169.4 959.8,169.4 960.0,176.0 C960.2,199.0 959.9,207.0 961.8,207.0 C963.6,207.0 963.3,199.0 963.5,183.0 L963.5,183.0 C963.7,176.4 968.7,176.4 968.9,183.0 C969.1,199.0 969.4,207.0 971.3,207.0 C973.2,207.0 973.5,199.0 973.7,183.6 L973.7,183.6 C973.9,177.0 979.5,177.0 979.7,183.6 C979.9,199.0 979.6,207.0 981.5,207.0 C983.4,207.0 983.0,199.0 983.2,177.0 L983.2,177.0 C983.4,170.4 989.8,170.4 990.0,177.0 L990.0,280 C990.0,298 978.0,307.5 967.5,307.5 H955.5 C945.0,307.5 933.0,298 933.0,280 Z" fill="url(#cellg)" stroke="#c6a084" stroke-width="1.4" stroke-linejoin="round"/>
<ellipse cx="961.5" cy="269.5" rx="14.6" ry="16.2" fill="url(#nucg)" stroke="#b98486" stroke-width="1.3"/>
<path d="M1006.0,280 V189.3 C1006.2,183.7 1011.0,183.7 1011.2,190.3 C1011.4,199.0 1011.4,207.0 1013.3,207.0 C1015.2,207.0 1015.2,199.0 1015.4,182.0 L1015.4,182.0 C1015.6,175.4 1021.8,175.4 1022.0,182.0 C1022.2,199.0 1022.5,207.0 1024.4,207.0 C1026.3,207.0 1026.6,199.0 1026.8,176.0 L1026.8,176.0 C1027.0,169.4 1032.8,169.4 1033.0,176.0 C1033.2,199.0 1032.8,207.0 1034.8,207.0 C1036.7,207.0 1036.3,199.0 1036.5,183.0 L1036.5,183.0 C1036.7,176.4 1041.7,176.4 1041.9,183.0 C1042.1,199.0 1042.4,207.0 1044.3,207.0 C1046.2,207.0 1046.5,199.0 1046.7,183.6 L1046.7,183.6 C1046.9,177.0 1052.5,177.0 1052.7,183.6 C1052.9,199.0 1052.5,207.0 1054.4,207.0 C1056.3,207.0 1056.0,199.0 1056.2,177.0 L1056.2,177.0 C1056.4,170.4 1062.8,170.4 1063.0,177.0 L1063.0,280 C1063.0,298 1051.0,307.5 1040.5,307.5 H1028.5 C1018.0,307.5 1006.0,298 1006.0,280 Z" fill="url(#cellg)" stroke="#c6a084" stroke-width="1.4" stroke-linejoin="round"/>
<ellipse cx="1034.5" cy="269.5" rx="14.6" ry="16.2" fill="url(#nucg)" stroke="#b98486" stroke-width="1.3"/>
<g fill="#5cb9f0" opacity="0.66"><circle cx="629.7" cy="292.8" r="2.0"/><circle cx="643.8" cy="217.7" r="1.2"/><circle cx="639.4" cy="284.8" r="2.1"/><circle cx="633.0" cy="296.0" r="1.6"/><circle cx="633.6" cy="268.9" r="1.5"/><circle cx="641.9" cy="224.3" r="2.2"/><circle cx="632.7" cy="277.2" r="2.2"/><circle cx="632.9" cy="250.6" r="1.7"/><circle cx="630.6" cy="242.0" r="1.8"/><circle cx="637.8" cy="236.5" r="2.2"/><circle cx="635.4" cy="263.0" r="2.1"/><circle cx="636.6" cy="295.6" r="2.2"/><circle cx="631.5" cy="204.7" r="1.4"/><circle cx="639.5" cy="290.2" r="2.0"/><circle cx="636.7" cy="229.7" r="2.2"/><circle cx="631.2" cy="212.3" r="1.3"/><circle cx="641.7" cy="246.6" r="1.8"/><circle cx="636.8" cy="240.3" r="1.4"/><circle cx="634.6" cy="291.2" r="1.5"/><circle cx="641.5" cy="231.9" r="1.6"/><circle cx="634.4" cy="287.1" r="1.7"/><circle cx="642.7" cy="209.9" r="2.1"/><circle cx="631.2" cy="247.1" r="1.7"/><circle cx="641.7" cy="238.0" r="2.2"/><circle cx="633.7" cy="271.9" r="1.2"/><circle cx="643.2" cy="286.1" r="1.4"/><circle cx="636.5" cy="249.5" r="2.3"/><circle cx="630.4" cy="207.0" r="2.1"/><circle cx="636.2" cy="256.0" r="2.1"/><circle cx="639.5" cy="258.2" r="1.5"/><circle cx="629.6" cy="210.9" r="1.6"/><circle cx="635.0" cy="263.3" r="1.6"/><circle cx="639.7" cy="260.5" r="1.9"/><circle cx="641.4" cy="232.0" r="2.1"/><circle cx="642.4" cy="286.1" r="1.2"/><circle cx="634.5" cy="265.2" r="1.6"/><circle cx="631.6" cy="251.2" r="1.5"/><circle cx="634.3" cy="294.7" r="2.2"/><circle cx="634.1" cy="266.7" r="1.6"/><circle cx="639.7" cy="259.3" r="1.6"/><circle cx="632.0" cy="208.5" r="2.1"/><circle cx="631.1" cy="270.8" r="2.1"/><circle cx="634.4" cy="256.6" r="2.2"/><circle cx="630.9" cy="215.0" r="1.6"/><circle cx="637.4" cy="271.6" r="1.7"/><circle cx="635.2" cy="287.3" r="2.1"/><circle cx="640.9" cy="203.4" r="1.4"/><circle cx="641.7" cy="264.0" r="1.9"/><circle cx="637.5" cy="256.8" r="2.0"/><circle cx="632.9" cy="237.3" r="1.8"/><circle cx="631.2" cy="251.4" r="1.8"/><circle cx="631.8" cy="246.4" r="2.0"/><circle cx="634.4" cy="275.4" r="2.2"/><circle cx="639.1" cy="294.8" r="1.6"/><circle cx="631.4" cy="228.3" r="1.5"/><circle cx="630.4" cy="295.9" r="2.2"/><circle cx="640.9" cy="267.8" r="1.3"/><circle cx="632.5" cy="263.1" r="1.9"/><circle cx="640.0" cy="276.9" r="1.8"/><circle cx="632.8" cy="285.3" r="1.4"/><circle cx="630.3" cy="283.5" r="1.7"/><circle cx="642.2" cy="242.1" r="1.6"/><circle cx="636.8" cy="255.9" r="1.7"/><circle cx="636.3" cy="247.0" r="1.9"/><circle cx="635.6" cy="243.2" r="2.2"/><circle cx="633.1" cy="293.8" r="2.2"/><circle cx="634.3" cy="205.2" r="2.2"/><circle cx="639.2" cy="218.7" r="2.3"/><circle cx="636.2" cy="259.9" r="1.2"/><circle cx="636.2" cy="244.9" r="2.1"/><circle cx="641.2" cy="239.3" r="1.6"/><circle cx="640.5" cy="262.1" r="1.4"/></g><g fill="#7cc8f3" opacity="0.5"><circle cx="650.0" cy="293.4" r="0.9"/><circle cx="647.9" cy="269.6" r="0.8"/><circle cx="648.6" cy="221.6" r="1.2"/><circle cx="650.0" cy="266.9" r="1.3"/><circle cx="650.0" cy="224.9" r="0.8"/><circle cx="627.0" cy="286.7" r="1.1"/><circle cx="626.0" cy="290.4" r="1.1"/><circle cx="650.2" cy="293.7" r="1.4"/><circle cx="626.3" cy="264.2" r="1.0"/><circle cx="648.9" cy="260.3" r="1.0"/><circle cx="649.1" cy="261.5" r="1.4"/><circle cx="626.7" cy="246.1" r="1.0"/><circle cx="646.8" cy="296.0" r="0.9"/><circle cx="646.2" cy="275.9" r="1.2"/><circle cx="627.5" cy="222.3" r="1.1"/><circle cx="627.2" cy="230.0" r="0.9"/><circle cx="623.9" cy="248.4" r="1.3"/><circle cx="645.9" cy="247.6" r="1.1"/><circle cx="648.4" cy="264.6" r="1.3"/><circle cx="627.3" cy="204.1" r="0.9"/><circle cx="648.2" cy="238.6" r="1.1"/><circle cx="647.3" cy="231.0" r="1.1"/><circle cx="623.4" cy="261.6" r="1.0"/><circle cx="626.2" cy="272.9" r="0.7"/><circle cx="645.8" cy="290.2" r="0.7"/><circle cx="649.1" cy="208.7" r="1.1"/><circle cx="627.4" cy="242.6" r="0.9"/><circle cx="623.3" cy="280.4" r="0.7"/><circle cx="649.9" cy="251.2" r="1.4"/><circle cx="627.7" cy="204.7" r="1.1"/><circle cx="646.2" cy="277.7" r="0.8"/><circle cx="650.5" cy="216.6" r="1.3"/><circle cx="649.7" cy="221.5" r="1.2"/><circle cx="624.3" cy="248.6" r="1.1"/><circle cx="650.3" cy="239.0" r="0.9"/><circle cx="623.7" cy="274.7" r="1.4"/><circle cx="627.2" cy="250.7" r="1.0"/><circle cx="646.5" cy="273.7" r="0.8"/><circle cx="624.8" cy="251.4" r="1.2"/><circle cx="645.9" cy="271.7" r="1.3"/><circle cx="626.9" cy="292.4" r="1.2"/><circle cx="647.4" cy="223.5" r="0.8"/><circle cx="627.8" cy="247.2" r="1.2"/><circle cx="623.0" cy="264.6" r="1.3"/><circle cx="625.9" cy="236.6" r="1.1"/><circle cx="649.3" cy="263.4" r="0.7"/><circle cx="623.0" cy="263.0" r="1.2"/><circle cx="624.2" cy="258.5" r="1.0"/><circle cx="648.7" cy="235.9" r="1.3"/><circle cx="627.7" cy="236.0" r="1.2"/><circle cx="628.0" cy="261.1" r="0.9"/><circle cx="645.4" cy="239.6" r="1.0"/><circle cx="648.8" cy="204.2" r="1.0"/><circle cx="625.4" cy="271.1" r="1.3"/><circle cx="627.7" cy="201.6" r="1.4"/><circle cx="650.4" cy="296.6" r="0.8"/><circle cx="648.9" cy="240.4" r="0.7"/><circle cx="626.4" cy="211.4" r="1.3"/><circle cx="627.8" cy="277.2" r="0.9"/><circle cx="647.0" cy="254.2" r="1.3"/><circle cx="623.3" cy="259.8" r="1.2"/><circle cx="648.0" cy="230.4" r="1.0"/><circle cx="626.8" cy="241.8" r="1.4"/><circle cx="647.1" cy="221.5" r="1.4"/><circle cx="648.5" cy="222.5" r="0.9"/><circle cx="626.5" cy="201.1" r="1.3"/><circle cx="623.6" cy="264.5" r="1.3"/><circle cx="627.5" cy="229.3" r="0.8"/><circle cx="628.2" cy="282.8" r="1.1"/><circle cx="649.2" cy="274.5" r="1.3"/></g>
<g fill="#5cb9f0" opacity="0.66"><circle cx="703.2" cy="292.1" r="1.2"/><circle cx="703.9" cy="295.9" r="1.3"/><circle cx="706.4" cy="263.6" r="2.2"/><circle cx="715.9" cy="224.6" r="1.6"/><circle cx="715.4" cy="258.9" r="2.0"/><circle cx="712.0" cy="288.9" r="1.3"/><circle cx="710.1" cy="285.0" r="1.5"/><circle cx="714.2" cy="220.7" r="1.8"/><circle cx="713.0" cy="290.2" r="2.3"/><circle cx="711.8" cy="255.7" r="1.9"/><circle cx="715.8" cy="227.0" r="1.5"/><circle cx="715.8" cy="275.6" r="1.9"/><circle cx="713.8" cy="216.2" r="1.9"/><circle cx="701.8" cy="220.2" r="1.8"/><circle cx="715.3" cy="206.0" r="1.8"/><circle cx="707.3" cy="251.1" r="1.9"/><circle cx="705.8" cy="288.2" r="1.6"/><circle cx="705.6" cy="257.2" r="1.9"/><circle cx="707.7" cy="253.5" r="1.9"/><circle cx="702.4" cy="252.1" r="2.3"/><circle cx="707.7" cy="236.1" r="1.6"/><circle cx="715.8" cy="289.4" r="1.8"/><circle cx="702.5" cy="240.3" r="2.2"/><circle cx="709.5" cy="218.9" r="1.6"/><circle cx="706.5" cy="233.5" r="1.4"/><circle cx="709.3" cy="206.4" r="2.1"/><circle cx="704.1" cy="263.2" r="2.0"/><circle cx="707.4" cy="207.8" r="2.1"/><circle cx="708.1" cy="288.7" r="2.1"/><circle cx="709.1" cy="249.4" r="1.8"/><circle cx="712.5" cy="295.2" r="1.7"/><circle cx="711.0" cy="270.6" r="1.6"/><circle cx="713.7" cy="275.9" r="1.9"/><circle cx="701.3" cy="290.7" r="1.8"/><circle cx="706.3" cy="262.0" r="1.4"/><circle cx="707.7" cy="267.4" r="1.5"/><circle cx="716.0" cy="206.9" r="1.6"/><circle cx="704.4" cy="214.0" r="1.5"/><circle cx="703.8" cy="283.6" r="1.5"/><circle cx="708.3" cy="212.1" r="1.4"/><circle cx="712.4" cy="235.0" r="2.2"/><circle cx="701.6" cy="280.6" r="1.6"/><circle cx="701.5" cy="282.0" r="1.4"/><circle cx="706.9" cy="248.6" r="2.0"/><circle cx="708.2" cy="269.8" r="1.5"/><circle cx="705.1" cy="224.5" r="1.3"/><circle cx="703.4" cy="264.9" r="2.2"/><circle cx="701.9" cy="263.1" r="1.7"/><circle cx="701.7" cy="259.1" r="1.7"/><circle cx="712.9" cy="205.8" r="1.2"/><circle cx="716.3" cy="261.8" r="2.1"/><circle cx="709.3" cy="224.7" r="1.4"/><circle cx="714.4" cy="234.8" r="2.1"/><circle cx="706.9" cy="203.8" r="1.9"/><circle cx="713.4" cy="219.3" r="2.2"/><circle cx="706.6" cy="254.3" r="2.1"/><circle cx="703.9" cy="250.7" r="1.5"/><circle cx="714.0" cy="217.8" r="1.8"/><circle cx="713.7" cy="267.8" r="2.3"/><circle cx="707.3" cy="220.7" r="2.2"/><circle cx="707.0" cy="273.8" r="1.9"/><circle cx="703.5" cy="221.1" r="1.3"/><circle cx="704.7" cy="238.3" r="1.8"/><circle cx="703.4" cy="293.2" r="1.8"/><circle cx="710.3" cy="283.4" r="1.8"/><circle cx="701.3" cy="274.4" r="2.2"/><circle cx="713.5" cy="266.8" r="2.1"/><circle cx="702.0" cy="212.2" r="1.4"/><circle cx="715.5" cy="249.9" r="2.2"/><circle cx="710.6" cy="241.3" r="2.0"/><circle cx="716.0" cy="233.9" r="2.2"/><circle cx="715.0" cy="270.6" r="2.1"/></g><g fill="#7cc8f3" opacity="0.5"><circle cx="721.2" cy="263.9" r="0.7"/><circle cx="694.9" cy="223.8" r="0.9"/><circle cx="718.1" cy="202.3" r="1.3"/><circle cx="699.1" cy="280.8" r="0.9"/><circle cx="695.5" cy="238.6" r="0.9"/><circle cx="722.5" cy="253.0" r="1.0"/><circle cx="699.5" cy="227.4" r="1.3"/><circle cx="697.6" cy="273.6" r="0.9"/><circle cx="699.4" cy="223.9" r="1.0"/><circle cx="717.9" cy="278.5" r="0.9"/><circle cx="719.9" cy="237.3" r="1.1"/><circle cx="721.9" cy="238.7" r="1.2"/><circle cx="721.3" cy="235.4" r="1.4"/><circle cx="721.6" cy="211.3" r="0.8"/><circle cx="721.0" cy="255.2" r="0.7"/><circle cx="720.5" cy="290.2" r="1.1"/><circle cx="721.6" cy="219.4" r="1.0"/><circle cx="721.2" cy="270.2" r="1.0"/><circle cx="718.9" cy="278.3" r="1.3"/><circle cx="696.5" cy="276.7" r="0.9"/><circle cx="696.7" cy="228.5" r="0.9"/><circle cx="720.0" cy="254.3" r="1.3"/><circle cx="696.8" cy="296.3" r="0.9"/><circle cx="694.7" cy="240.7" r="0.8"/><circle cx="721.1" cy="253.9" r="0.8"/><circle cx="697.8" cy="279.1" r="0.8"/><circle cx="717.6" cy="249.5" r="0.8"/><circle cx="718.4" cy="297.6" r="1.4"/><circle cx="696.1" cy="249.8" r="0.9"/><circle cx="699.0" cy="211.9" r="0.8"/><circle cx="721.3" cy="249.1" r="1.1"/><circle cx="718.8" cy="231.9" r="0.8"/><circle cx="696.6" cy="284.1" r="1.0"/><circle cx="720.9" cy="201.0" r="0.9"/><circle cx="698.7" cy="242.2" r="1.3"/><circle cx="696.9" cy="239.9" r="1.1"/><circle cx="722.6" cy="226.8" r="1.1"/><circle cx="720.5" cy="288.6" r="0.8"/><circle cx="697.5" cy="293.4" r="1.0"/><circle cx="695.3" cy="207.2" r="1.0"/><circle cx="694.9" cy="228.3" r="1.4"/><circle cx="722.0" cy="210.7" r="0.9"/><circle cx="718.8" cy="281.5" r="0.7"/><circle cx="698.6" cy="297.2" r="1.2"/><circle cx="719.2" cy="277.8" r="1.2"/><circle cx="719.2" cy="271.8" r="1.1"/><circle cx="699.0" cy="295.4" r="1.0"/><circle cx="721.6" cy="207.3" r="1.0"/><circle cx="720.4" cy="289.9" r="1.3"/><circle cx="698.8" cy="246.9" r="1.2"/><circle cx="695.4" cy="204.4" r="0.8"/><circle cx="696.5" cy="234.3" r="1.4"/><circle cx="699.2" cy="294.6" r="1.2"/><circle cx="721.3" cy="223.7" r="0.8"/><circle cx="698.6" cy="284.9" r="0.8"/><circle cx="695.0" cy="228.9" r="1.2"/><circle cx="720.9" cy="234.1" r="1.2"/><circle cx="698.9" cy="266.2" r="0.8"/><circle cx="718.2" cy="215.3" r="0.7"/><circle cx="696.8" cy="266.0" r="1.3"/><circle cx="697.7" cy="228.7" r="1.2"/><circle cx="696.2" cy="200.1" r="1.3"/><circle cx="719.8" cy="247.7" r="1.2"/><circle cx="699.0" cy="274.2" r="0.9"/><circle cx="699.7" cy="231.2" r="1.1"/><circle cx="718.8" cy="223.2" r="0.8"/><circle cx="697.2" cy="258.4" r="1.1"/><circle cx="722.7" cy="202.4" r="1.1"/><circle cx="719.8" cy="237.9" r="1.3"/><circle cx="694.8" cy="209.6" r="1.1"/></g>
<g fill="#5cb9f0" opacity="0.66"><circle cx="778.3" cy="254.0" r="2.1"/><circle cx="780.6" cy="229.8" r="1.6"/><circle cx="787.1" cy="241.6" r="1.3"/><circle cx="776.6" cy="244.4" r="1.6"/><circle cx="778.1" cy="295.9" r="1.9"/><circle cx="783.7" cy="242.0" r="1.7"/><circle cx="779.6" cy="218.9" r="1.6"/><circle cx="781.4" cy="276.7" r="1.4"/><circle cx="777.7" cy="265.7" r="1.8"/><circle cx="779.3" cy="223.4" r="2.1"/><circle cx="784.0" cy="251.0" r="2.0"/><circle cx="782.5" cy="257.6" r="1.6"/><circle cx="784.4" cy="260.5" r="1.3"/><circle cx="778.6" cy="290.2" r="1.4"/><circle cx="778.3" cy="217.0" r="1.3"/><circle cx="779.3" cy="240.0" r="1.9"/><circle cx="786.6" cy="246.4" r="1.9"/><circle cx="785.7" cy="232.9" r="2.0"/><circle cx="783.8" cy="293.0" r="2.3"/><circle cx="777.4" cy="222.1" r="2.3"/><circle cx="786.4" cy="205.0" r="2.2"/><circle cx="775.6" cy="215.6" r="2.2"/><circle cx="785.7" cy="292.3" r="2.0"/><circle cx="777.8" cy="273.7" r="1.2"/><circle cx="785.9" cy="261.4" r="2.2"/><circle cx="773.6" cy="250.9" r="1.4"/><circle cx="776.7" cy="244.8" r="1.2"/><circle cx="780.5" cy="220.9" r="1.3"/><circle cx="775.8" cy="213.5" r="1.2"/><circle cx="785.6" cy="275.9" r="1.4"/><circle cx="785.8" cy="262.0" r="1.5"/><circle cx="785.8" cy="234.0" r="2.0"/><circle cx="784.6" cy="260.8" r="1.8"/><circle cx="783.1" cy="232.3" r="2.1"/><circle cx="778.0" cy="208.2" r="1.5"/><circle cx="777.5" cy="285.4" r="1.9"/><circle cx="778.8" cy="243.4" r="1.7"/><circle cx="782.7" cy="286.2" r="1.6"/><circle cx="778.3" cy="217.0" r="1.7"/><circle cx="787.5" cy="263.1" r="1.6"/><circle cx="786.3" cy="290.4" r="1.7"/><circle cx="776.8" cy="223.7" r="2.2"/><circle cx="782.6" cy="219.1" r="1.9"/><circle cx="773.9" cy="218.6" r="1.9"/><circle cx="781.2" cy="207.9" r="2.3"/><circle cx="777.9" cy="246.1" r="1.3"/><circle cx="778.0" cy="231.1" r="1.3"/><circle cx="781.9" cy="268.3" r="2.0"/><circle cx="777.0" cy="213.0" r="2.2"/><circle cx="778.7" cy="203.8" r="2.1"/><circle cx="776.6" cy="224.3" r="1.9"/><circle cx="778.2" cy="226.4" r="1.6"/><circle cx="782.7" cy="230.8" r="2.0"/><circle cx="787.2" cy="273.8" r="1.3"/><circle cx="787.3" cy="226.9" r="2.1"/><circle cx="776.6" cy="273.7" r="1.3"/><circle cx="786.0" cy="228.6" r="2.0"/><circle cx="782.7" cy="237.1" r="2.0"/><circle cx="775.0" cy="229.7" r="2.1"/><circle cx="784.8" cy="268.8" r="2.0"/><circle cx="782.7" cy="237.0" r="1.6"/><circle cx="775.2" cy="287.0" r="2.0"/><circle cx="786.2" cy="235.2" r="2.1"/><circle cx="773.7" cy="219.3" r="1.5"/><circle cx="784.3" cy="292.4" r="2.0"/><circle cx="776.5" cy="222.5" r="1.7"/><circle cx="782.1" cy="252.5" r="1.3"/><circle cx="776.9" cy="281.4" r="2.0"/><circle cx="777.7" cy="232.5" r="2.2"/><circle cx="780.6" cy="223.2" r="2.2"/><circle cx="783.6" cy="280.0" r="1.5"/><circle cx="780.1" cy="261.3" r="1.5"/></g><g fill="#7cc8f3" opacity="0.5"><circle cx="767.6" cy="275.7" r="1.0"/><circle cx="793.6" cy="214.1" r="1.1"/><circle cx="790.7" cy="259.3" r="1.1"/><circle cx="768.8" cy="206.7" r="0.7"/><circle cx="789.5" cy="293.4" r="1.0"/><circle cx="793.4" cy="266.3" r="1.1"/><circle cx="793.8" cy="215.8" r="0.7"/><circle cx="770.2" cy="249.9" r="0.8"/><circle cx="792.4" cy="250.0" r="1.2"/><circle cx="789.6" cy="277.1" r="1.4"/><circle cx="792.6" cy="224.5" r="1.2"/><circle cx="789.0" cy="208.3" r="1.3"/><circle cx="791.6" cy="200.9" r="1.1"/><circle cx="770.0" cy="276.4" r="1.2"/><circle cx="792.3" cy="293.1" r="0.9"/><circle cx="771.0" cy="275.4" r="0.9"/><circle cx="793.7" cy="221.1" r="1.0"/><circle cx="791.7" cy="249.4" r="1.2"/><circle cx="791.2" cy="223.2" r="1.1"/><circle cx="768.8" cy="217.6" r="0.9"/><circle cx="771.4" cy="294.5" r="1.1"/><circle cx="793.7" cy="227.8" r="1.1"/><circle cx="768.6" cy="271.1" r="0.8"/><circle cx="789.3" cy="271.3" r="0.8"/><circle cx="769.1" cy="234.7" r="0.7"/><circle cx="768.4" cy="280.2" r="0.9"/><circle cx="772.2" cy="250.5" r="1.1"/><circle cx="789.9" cy="211.9" r="1.2"/><circle cx="793.5" cy="233.6" r="0.9"/><circle cx="793.4" cy="234.0" r="0.9"/><circle cx="767.3" cy="215.0" r="0.9"/><circle cx="791.6" cy="267.2" r="1.2"/><circle cx="790.0" cy="292.2" r="0.9"/><circle cx="792.2" cy="234.2" r="1.1"/><circle cx="769.1" cy="202.8" r="1.0"/><circle cx="771.6" cy="283.2" r="1.2"/><circle cx="772.5" cy="290.2" r="1.3"/><circle cx="769.6" cy="202.7" r="1.2"/><circle cx="772.2" cy="215.4" r="0.9"/><circle cx="771.8" cy="297.9" r="1.1"/><circle cx="790.6" cy="247.8" r="1.0"/><circle cx="788.7" cy="232.6" r="0.8"/><circle cx="771.0" cy="275.2" r="1.4"/><circle cx="788.7" cy="227.9" r="0.7"/><circle cx="767.4" cy="235.3" r="1.0"/><circle cx="790.4" cy="262.2" r="0.9"/><circle cx="793.6" cy="248.5" r="1.1"/><circle cx="792.8" cy="224.3" r="0.7"/><circle cx="767.0" cy="286.3" r="0.8"/><circle cx="769.9" cy="262.9" r="0.9"/><circle cx="768.8" cy="270.9" r="0.7"/><circle cx="767.1" cy="291.6" r="1.4"/><circle cx="767.4" cy="286.9" r="1.2"/><circle cx="793.2" cy="262.7" r="1.3"/><circle cx="791.2" cy="255.6" r="0.7"/><circle cx="790.8" cy="253.0" r="0.7"/><circle cx="768.0" cy="281.0" r="0.9"/><circle cx="790.6" cy="296.4" r="1.3"/><circle cx="772.1" cy="250.6" r="1.0"/><circle cx="767.1" cy="265.0" r="1.2"/><circle cx="793.4" cy="255.0" r="0.8"/><circle cx="789.3" cy="290.3" r="1.1"/><circle cx="771.3" cy="202.4" r="0.7"/><circle cx="769.4" cy="252.9" r="0.9"/><circle cx="792.8" cy="227.4" r="1.0"/><circle cx="793.7" cy="207.5" r="0.7"/><circle cx="792.8" cy="203.3" r="0.9"/><circle cx="792.4" cy="284.0" r="1.0"/><circle cx="772.3" cy="226.5" r="1.0"/><circle cx="770.4" cy="226.4" r="0.7"/></g>
<g fill="#5cb9f0" opacity="0.66"><circle cx="858.8" cy="233.6" r="2.3"/><circle cx="856.0" cy="288.4" r="2.2"/><circle cx="853.6" cy="203.0" r="1.5"/><circle cx="850.8" cy="270.9" r="1.8"/><circle cx="852.9" cy="253.5" r="2.1"/><circle cx="849.5" cy="294.3" r="2.1"/><circle cx="850.2" cy="285.7" r="1.3"/><circle cx="855.6" cy="249.3" r="1.8"/><circle cx="854.7" cy="220.2" r="1.6"/><circle cx="846.9" cy="285.4" r="1.9"/><circle cx="858.8" cy="238.8" r="1.4"/><circle cx="850.6" cy="284.9" r="1.6"/><circle cx="851.7" cy="222.4" r="2.2"/><circle cx="858.1" cy="295.9" r="1.9"/><circle cx="851.9" cy="225.0" r="1.9"/><circle cx="858.8" cy="230.5" r="1.3"/><circle cx="847.4" cy="224.8" r="1.4"/><circle cx="848.0" cy="208.9" r="1.6"/><circle cx="852.4" cy="290.4" r="1.9"/><circle cx="847.0" cy="235.4" r="1.8"/><circle cx="845.7" cy="270.7" r="1.9"/><circle cx="854.5" cy="222.5" r="1.6"/><circle cx="846.5" cy="216.7" r="2.1"/><circle cx="845.7" cy="253.2" r="2.2"/><circle cx="848.6" cy="228.7" r="1.2"/><circle cx="852.6" cy="230.9" r="2.2"/><circle cx="851.7" cy="230.8" r="1.3"/><circle cx="848.9" cy="266.9" r="1.6"/><circle cx="856.4" cy="228.2" r="2.3"/><circle cx="851.0" cy="215.8" r="1.3"/><circle cx="857.7" cy="272.8" r="1.3"/><circle cx="848.9" cy="266.5" r="1.7"/><circle cx="850.1" cy="256.2" r="1.9"/><circle cx="851.7" cy="233.4" r="1.6"/><circle cx="846.6" cy="242.4" r="1.6"/><circle cx="853.5" cy="213.3" r="1.7"/><circle cx="857.5" cy="241.9" r="1.4"/><circle cx="853.3" cy="252.2" r="1.9"/><circle cx="849.7" cy="273.7" r="2.2"/><circle cx="845.6" cy="265.1" r="1.9"/><circle cx="858.1" cy="251.1" r="2.0"/><circle cx="854.3" cy="265.7" r="2.0"/><circle cx="851.6" cy="244.6" r="1.8"/><circle cx="851.9" cy="204.9" r="1.7"/><circle cx="852.7" cy="242.8" r="1.9"/><circle cx="852.8" cy="239.3" r="1.5"/><circle cx="854.1" cy="293.8" r="2.0"/><circle cx="844.9" cy="271.7" r="1.4"/><circle cx="850.9" cy="238.2" r="1.6"/><circle cx="853.6" cy="251.2" r="2.0"/><circle cx="850.4" cy="267.4" r="2.1"/><circle cx="858.4" cy="278.5" r="1.2"/><circle cx="847.0" cy="256.7" r="2.1"/><circle cx="854.2" cy="290.8" r="1.6"/><circle cx="851.9" cy="284.2" r="2.0"/><circle cx="846.1" cy="220.7" r="2.1"/><circle cx="850.0" cy="282.9" r="1.3"/><circle cx="857.7" cy="230.7" r="1.4"/><circle cx="849.0" cy="272.7" r="2.2"/><circle cx="858.3" cy="234.7" r="1.8"/><circle cx="850.2" cy="203.8" r="1.7"/><circle cx="845.7" cy="217.1" r="1.8"/><circle cx="855.1" cy="270.6" r="1.6"/><circle cx="851.1" cy="219.7" r="2.0"/><circle cx="857.4" cy="222.8" r="2.3"/><circle cx="846.6" cy="234.5" r="1.8"/><circle cx="857.5" cy="217.3" r="1.8"/><circle cx="856.9" cy="241.6" r="2.1"/><circle cx="845.9" cy="272.1" r="1.6"/><circle cx="857.0" cy="234.9" r="1.5"/><circle cx="851.0" cy="213.1" r="1.5"/><circle cx="849.9" cy="264.2" r="1.3"/></g><g fill="#7cc8f3" opacity="0.5"><circle cx="843.1" cy="265.5" r="1.2"/><circle cx="862.6" cy="255.5" r="1.4"/><circle cx="864.1" cy="210.6" r="1.2"/><circle cx="843.2" cy="235.1" r="1.2"/><circle cx="839.4" cy="270.5" r="0.8"/><circle cx="840.9" cy="224.4" r="1.4"/><circle cx="863.7" cy="213.4" r="0.7"/><circle cx="861.4" cy="223.3" r="1.3"/><circle cx="862.1" cy="219.9" r="1.2"/><circle cx="843.1" cy="230.2" r="0.8"/><circle cx="861.3" cy="238.2" r="0.7"/><circle cx="860.7" cy="272.5" r="0.9"/><circle cx="840.3" cy="259.1" r="0.7"/><circle cx="863.4" cy="290.2" r="0.9"/><circle cx="860.6" cy="294.1" r="1.2"/><circle cx="843.4" cy="215.3" r="1.2"/><circle cx="843.4" cy="231.2" r="1.2"/><circle cx="842.8" cy="219.1" r="1.2"/><circle cx="839.7" cy="248.7" r="0.8"/><circle cx="839.0" cy="201.4" r="1.3"/><circle cx="861.5" cy="274.9" r="1.2"/><circle cx="864.4" cy="225.0" r="0.8"/><circle cx="841.5" cy="296.3" r="0.9"/><circle cx="839.7" cy="208.1" r="0.9"/><circle cx="840.6" cy="256.0" r="1.1"/><circle cx="838.4" cy="289.1" r="1.3"/><circle cx="862.9" cy="276.9" r="1.3"/><circle cx="862.0" cy="260.4" r="0.9"/><circle cx="860.4" cy="242.9" r="1.1"/><circle cx="863.7" cy="221.7" r="1.2"/><circle cx="864.7" cy="250.8" r="0.9"/><circle cx="842.8" cy="286.1" r="1.2"/><circle cx="864.2" cy="284.5" r="0.7"/><circle cx="840.4" cy="237.8" r="0.8"/><circle cx="838.3" cy="283.4" r="1.2"/><circle cx="864.5" cy="235.1" r="1.0"/><circle cx="860.5" cy="208.2" r="1.1"/><circle cx="841.7" cy="271.9" r="0.9"/><circle cx="840.6" cy="255.9" r="0.9"/><circle cx="864.3" cy="268.8" r="0.7"/><circle cx="841.2" cy="238.0" r="1.4"/><circle cx="840.9" cy="277.2" r="1.3"/><circle cx="862.9" cy="246.5" r="0.9"/><circle cx="842.4" cy="229.8" r="0.8"/><circle cx="865.1" cy="279.8" r="1.3"/><circle cx="843.2" cy="260.5" r="1.1"/><circle cx="840.4" cy="242.5" r="1.2"/><circle cx="863.8" cy="230.1" r="1.2"/><circle cx="842.1" cy="285.5" r="0.8"/><circle cx="838.5" cy="251.8" r="0.9"/><circle cx="862.0" cy="208.6" r="1.3"/><circle cx="841.4" cy="283.1" r="1.0"/><circle cx="863.2" cy="226.2" r="0.7"/><circle cx="841.2" cy="232.1" r="1.3"/><circle cx="841.0" cy="267.9" r="0.8"/><circle cx="843.4" cy="218.4" r="1.0"/><circle cx="839.2" cy="201.3" r="0.8"/><circle cx="862.0" cy="209.2" r="0.8"/><circle cx="861.8" cy="263.8" r="1.4"/><circle cx="863.1" cy="268.3" r="1.1"/><circle cx="865.4" cy="204.7" r="1.1"/><circle cx="862.2" cy="235.5" r="1.0"/><circle cx="863.8" cy="221.0" r="1.0"/><circle cx="839.1" cy="273.7" r="1.2"/><circle cx="841.6" cy="271.8" r="0.7"/><circle cx="863.9" cy="238.6" r="0.9"/><circle cx="843.0" cy="209.6" r="0.7"/><circle cx="841.9" cy="296.8" r="1.1"/><circle cx="841.4" cy="296.5" r="0.8"/><circle cx="864.1" cy="225.7" r="1.4"/></g>
<g fill="#5cb9f0" opacity="0.66"><circle cx="927.8" cy="206.6" r="1.4"/><circle cx="927.4" cy="246.0" r="2.1"/><circle cx="924.5" cy="245.1" r="1.2"/><circle cx="922.3" cy="243.2" r="2.1"/><circle cx="928.8" cy="253.9" r="1.7"/><circle cx="930.5" cy="219.4" r="2.1"/><circle cx="917.6" cy="238.0" r="1.8"/><circle cx="929.1" cy="249.1" r="1.9"/><circle cx="925.8" cy="250.1" r="1.6"/><circle cx="917.0" cy="207.5" r="2.2"/><circle cx="921.0" cy="281.0" r="2.2"/><circle cx="917.8" cy="251.6" r="2.1"/><circle cx="931.9" cy="257.3" r="1.9"/><circle cx="926.6" cy="211.8" r="2.1"/><circle cx="921.6" cy="286.6" r="1.8"/><circle cx="918.8" cy="268.2" r="2.1"/><circle cx="916.9" cy="275.6" r="1.9"/><circle cx="919.2" cy="237.2" r="1.9"/><circle cx="925.4" cy="293.1" r="1.3"/><circle cx="929.2" cy="249.0" r="2.3"/><circle cx="916.7" cy="269.5" r="2.3"/><circle cx="917.4" cy="259.0" r="1.3"/><circle cx="927.3" cy="211.0" r="1.4"/><circle cx="917.9" cy="278.1" r="1.8"/><circle cx="916.6" cy="244.2" r="1.2"/><circle cx="932.6" cy="287.0" r="1.3"/><circle cx="932.8" cy="271.3" r="2.2"/><circle cx="921.7" cy="285.3" r="2.0"/><circle cx="931.9" cy="249.3" r="2.0"/><circle cx="930.6" cy="281.5" r="1.6"/><circle cx="917.6" cy="269.2" r="1.4"/><circle cx="922.9" cy="290.1" r="2.0"/><circle cx="920.4" cy="256.5" r="1.8"/><circle cx="921.6" cy="287.9" r="1.6"/><circle cx="919.0" cy="220.3" r="2.1"/><circle cx="932.4" cy="268.7" r="1.9"/><circle cx="919.8" cy="292.2" r="1.4"/><circle cx="922.5" cy="223.1" r="2.3"/><circle cx="923.8" cy="223.9" r="1.3"/><circle cx="925.3" cy="205.5" r="1.9"/><circle cx="931.5" cy="250.5" r="2.1"/><circle cx="925.8" cy="291.5" r="1.5"/><circle cx="929.0" cy="215.1" r="1.4"/><circle cx="927.9" cy="203.6" r="1.3"/><circle cx="919.4" cy="260.9" r="1.7"/><circle cx="922.4" cy="204.4" r="1.6"/><circle cx="918.3" cy="227.3" r="1.8"/><circle cx="919.4" cy="267.4" r="1.2"/><circle cx="927.9" cy="227.9" r="1.5"/><circle cx="917.3" cy="263.2" r="2.0"/><circle cx="919.8" cy="216.2" r="2.0"/><circle cx="926.9" cy="247.2" r="1.5"/><circle cx="921.1" cy="265.2" r="1.7"/><circle cx="931.5" cy="244.3" r="2.0"/><circle cx="930.4" cy="254.0" r="1.9"/><circle cx="924.8" cy="270.3" r="1.8"/><circle cx="931.8" cy="222.9" r="1.9"/><circle cx="926.3" cy="279.2" r="1.2"/><circle cx="931.0" cy="213.1" r="2.0"/><circle cx="931.2" cy="287.1" r="1.5"/><circle cx="926.4" cy="294.6" r="2.0"/><circle cx="920.4" cy="251.0" r="1.7"/><circle cx="921.1" cy="246.0" r="1.6"/><circle cx="920.5" cy="244.2" r="1.4"/><circle cx="922.1" cy="277.8" r="1.6"/><circle cx="927.9" cy="275.9" r="1.7"/><circle cx="929.5" cy="231.8" r="1.5"/><circle cx="922.4" cy="246.1" r="2.3"/><circle cx="926.1" cy="225.3" r="1.8"/><circle cx="919.1" cy="207.5" r="2.2"/><circle cx="919.6" cy="276.3" r="1.4"/><circle cx="926.0" cy="290.3" r="2.0"/></g><g fill="#7cc8f3" opacity="0.5"><circle cx="939.0" cy="288.9" r="1.0"/><circle cx="938.6" cy="252.0" r="0.8"/><circle cx="934.7" cy="273.2" r="1.3"/><circle cx="934.5" cy="230.2" r="1.1"/><circle cx="912.9" cy="250.8" r="1.0"/><circle cx="937.0" cy="245.0" r="1.4"/><circle cx="936.6" cy="200.9" r="0.8"/><circle cx="912.5" cy="210.5" r="0.8"/><circle cx="936.6" cy="266.2" r="1.4"/><circle cx="913.5" cy="235.2" r="1.3"/><circle cx="935.0" cy="208.7" r="1.1"/><circle cx="912.7" cy="220.1" r="0.7"/><circle cx="913.8" cy="262.2" r="0.8"/><circle cx="913.7" cy="219.7" r="1.2"/><circle cx="914.5" cy="203.9" r="0.7"/><circle cx="913.6" cy="260.3" r="1.0"/><circle cx="911.6" cy="218.3" r="0.9"/><circle cx="939.2" cy="278.4" r="1.2"/><circle cx="936.5" cy="239.8" r="1.1"/><circle cx="937.5" cy="220.0" r="1.3"/><circle cx="912.6" cy="280.8" r="1.3"/><circle cx="914.6" cy="217.5" r="0.8"/><circle cx="911.5" cy="210.3" r="0.9"/><circle cx="935.3" cy="267.8" r="1.2"/><circle cx="936.0" cy="201.1" r="1.0"/><circle cx="911.4" cy="212.7" r="1.3"/><circle cx="913.9" cy="203.7" r="1.2"/><circle cx="938.5" cy="254.7" r="1.4"/><circle cx="936.1" cy="235.0" r="1.2"/><circle cx="938.0" cy="253.2" r="0.8"/><circle cx="914.9" cy="260.0" r="0.9"/><circle cx="934.1" cy="282.8" r="1.0"/><circle cx="935.7" cy="203.2" r="0.9"/><circle cx="934.2" cy="230.6" r="1.2"/><circle cx="935.8" cy="253.1" r="1.1"/><circle cx="912.3" cy="227.7" r="1.1"/><circle cx="912.6" cy="218.3" r="1.0"/><circle cx="935.4" cy="217.0" r="1.1"/><circle cx="935.8" cy="210.0" r="0.8"/><circle cx="938.1" cy="293.2" r="1.3"/><circle cx="938.3" cy="271.8" r="1.3"/><circle cx="914.1" cy="203.5" r="0.8"/><circle cx="934.9" cy="234.3" r="1.1"/><circle cx="937.2" cy="243.1" r="0.9"/><circle cx="935.7" cy="262.0" r="1.2"/><circle cx="914.7" cy="200.9" r="1.2"/><circle cx="912.5" cy="212.8" r="1.2"/><circle cx="914.8" cy="225.1" r="1.3"/><circle cx="911.8" cy="226.1" r="1.4"/><circle cx="914.5" cy="284.8" r="0.9"/><circle cx="912.1" cy="270.2" r="1.1"/><circle cx="913.0" cy="273.9" r="1.0"/><circle cx="911.3" cy="235.2" r="1.0"/><circle cx="914.2" cy="206.6" r="1.0"/><circle cx="934.3" cy="227.9" r="0.8"/><circle cx="935.7" cy="297.4" r="1.4"/><circle cx="910.5" cy="256.9" r="1.3"/><circle cx="934.5" cy="287.8" r="1.1"/><circle cx="912.9" cy="292.6" r="1.3"/><circle cx="913.9" cy="251.4" r="1.1"/><circle cx="935.3" cy="250.9" r="0.9"/><circle cx="913.4" cy="222.6" r="1.4"/><circle cx="934.7" cy="286.0" r="0.7"/><circle cx="935.2" cy="228.4" r="0.7"/><circle cx="910.9" cy="257.3" r="0.9"/><circle cx="912.4" cy="283.7" r="1.3"/><circle cx="909.8" cy="223.3" r="1.3"/><circle cx="938.4" cy="271.7" r="0.8"/><circle cx="910.6" cy="251.5" r="1.3"/><circle cx="913.2" cy="244.4" r="1.3"/></g>
<!-- top labels -->
<g font-size="23.4" fill="#000">
<text x="666.4" y="20.7" textLength="136.4" lengthAdjust="spacingAndGlyphs">Zearalenone</text>
<text x="461.3" y="65.1" textLength="159.4" lengthAdjust="spacingAndGlyphs">LPS-producing</text>
<text x="498.8" y="92.9" textLength="85.2" lengthAdjust="spacingAndGlyphs">bacteria</text>
<text x="851.9" y="65.1" textLength="205.6" lengthAdjust="spacingAndGlyphs">Butyrate-producing</text>
<text x="915.3" y="92.9" textLength="85.7" lengthAdjust="spacingAndGlyphs">bacteria</text>
</g>
<use href="#upA" x="653.2" y="18.1"/>
<use href="#upA" x="442" y="62.8"/>
<use href="#dnA" x="835.3" y="56.5"/>
<g fill="none" stroke="#1a1a1a" stroke-width="3" stroke-linecap="round" stroke-linejoin="round">
<path d="M629,12.7 C601,14 573,24 557,45"/><path d="M553.3,38 L555.6,47 L566.8,44" stroke="#333" stroke-width="4.2"/>
<path d="M813,10 C842,10 867,22 885,42.5"/><path d="M875.5,41.5 L886,44.5 L888.8,36" stroke="#333" stroke-width="4.2"/>
</g>
<g fill="none" stroke="#333" stroke-width="4" stroke-linecap="butt" stroke-linejoin="miter">
<path d="M537.3,98 V131"/><path d="M529.8,123.2 L537.3,132 L544.8,123.2"/>
<path d="M949,96.5 V138"/><path d="M941.5,130.5 L949,139 L956.5,130.5"/>
</g>
<g stroke="#f0141c" stroke-width="4.2" stroke-linecap="round"><path d="M938,101 L961.5,124"/><path d="M960,101 L939.5,124.5"/></g>
<text class="b" font-size="20" fill="#c00000" x="605.8" y="245.5" textLength="282" lengthAdjust="spacingAndGlyphs">Intestinal barrier dysfunction</text>
<text class="b" font-size="30" fill="#262626" transform="translate(415.4,217.4) rotate(-90)" textLength="184" lengthAdjust="spacingAndGlyphs">Bowel lumen</text>

<!-- panels -->
<rect x="347" y="417.4" width="374.4" height="525.5" fill="#e4d9b6"/><path d="M347.5,942.9 V417.9 H721.4" fill="none" stroke="#dccf9f" stroke-width="1"/>
<rect x="769" y="417.4" width="375" height="525.5" fill="#e4d9b6"/><path d="M769.5,942.9 V417.9 H1144" fill="none" stroke="#dccf9f" stroke-width="1"/>
<path d="M663,611.5 L684.6,586.5 V599 H828.8 V586.5 L850,611.5 L828.8,637.3 V625 H684.6 V637.3 Z" fill="url(#arrH)"/>
<text class="b" font-size="20" fill="#c00000" x="701.5" y="618.5" textLength="107" lengthAdjust="spacingAndGlyphs">Inflamation</text>
<text class="b" font-size="30" fill="#333" x="420.4" y="448.3" textLength="227.6" lengthAdjust="spacingAndGlyphs">Immune system</text>
<text class="b" font-size="30" fill="#333" x="810.6" y="448.3" textLength="307.4" lengthAdjust="spacingAndGlyphs">Reproductive system</text>
<g fill="#eee3e2">
<circle cx="454.8" cy="528.3" r="67.8"/><circle cx="616" cy="528.3" r="67.8"/>
<circle cx="454.8" cy="689" r="67.8"/><circle cx="616" cy="689" r="67.8"/>
<circle cx="964.1" cy="595.6" r="96.8"/>
</g>
<g class="b" font-size="16" fill="#000" text-anchor="middle">
<text x="454.5" y="585.7">Spleen</text><text x="615.7" y="585.7">Thymus</text>
<text x="453.7" y="745">Liver</text><text x="615.8" y="733.5">Lymph</text><text x="616" y="751.8">node</text>
<text x="965" y="670.6" textLength="118" lengthAdjust="spacingAndGlyphs">Ovary &amp; Uterus</text>
</g>
<rect x="375.6" y="774.2" width="328.2" height="161.3" rx="24" fill="none" stroke="#a64e27" stroke-width="1.5" stroke-dasharray="4.4 2.6"/>
<rect x="798.1" y="738.1" width="332" height="197.2" rx="24" fill="none" stroke="#a64e27" stroke-width="1.5" stroke-dasharray="4.4 2.6"/>

<!-- curved inflammation arrow (double headed), drawn over the panels -->
<path d="M523.3,380.2 L558.2,393 C566,376 574,358 580,342 C584,331 587,320 587.5,305 L910.5,305 C911,320 914,331 918,342 C924,358 934,378 943.1,397.7 L978.6,381 C966,395 958,412 955.4,430.7 C938,420 912,414 881.9,412.4 L917.4,398.9 C909,384 899,372 886,361 C868,346 846,336 820,330 C798,325 772,322.5 749,322.5 C726,322.5 700,325 678,330 C652,336 630,346 612,361 C600,371 590,385 583.1,401.3 L619.6,411.6 C592,413 566,420 547.4,428.7 C543,410 535,394 523.3,380.2 Z" fill="url(#arcg)"/>
<text class="b" font-size="20" fill="#c00000" x="694" y="321.3" textLength="108" lengthAdjust="spacingAndGlyphs">Inflamation</text>

<g fill="#cc0000"><circle cx="584" cy="312.5" r="5.8"/><circle cx="631" cy="309.6" r="5.8"/><circle cx="647.3" cy="315" r="5.8"/><circle cx="681.6" cy="316" r="5.8"/><circle cx="604.5" cy="328.7" r="5.8"/><circle cx="656" cy="328.7" r="5.8"/><circle cx="633.4" cy="335.5" r="5.8"/><circle cx="619.4" cy="338.5" r="5.8"/><circle cx="599" cy="351.7" r="5.8"/><circle cx="620" cy="363.4" r="5.8"/><circle cx="586" cy="369.8" r="5.8"/><circle cx="577.8" cy="385" r="5.8"/><circle cx="551.4" cy="405" r="5.8"/><circle cx="572" cy="404.5" r="5.8"/><circle cx="598" cy="409" r="5.8"/><circle cx="824" cy="312.5" r="5.8"/><circle cx="844.7" cy="311" r="5.8"/><circle cx="877.5" cy="311.5" r="5.8"/><circle cx="907.4" cy="315" r="5.8"/><circle cx="869" cy="326.7" r="5.8"/><circle cx="851.4" cy="335.5" r="5.8"/><circle cx="892.5" cy="335.5" r="5.8"/><circle cx="910.8" cy="341" r="5.8"/><circle cx="877.5" cy="347" r="5.8"/><circle cx="901" cy="358.5" r="5.8"/><circle cx="922.8" cy="374" r="5.8"/><circle cx="922.3" cy="393.5" r="5.8"/><circle cx="899.3" cy="408.5" r="5.8"/><circle cx="932.9" cy="409.2" r="5.8"/><circle cx="955.9" cy="408.5" r="5.8"/></g>
<use href="#lps" transform="translate(500.6,127.6) rotate(-50) scale(1.06)"/>
<use href="#lps" transform="translate(501.3,151.5) rotate(8) scale(1.06)"/>
<use href="#lps" transform="translate(525,148.6) rotate(35) scale(1.06)"/>
<use href="#lps" transform="translate(551.3,139.8) rotate(80) scale(1.06)"/>
<use href="#lps" transform="translate(569.5,149.4) rotate(12) scale(1.06)"/>
<use href="#lps" transform="translate(546,164) rotate(0) scale(1.06)"/>
<use href="#lps" transform="translate(499,174) rotate(10) scale(1.06)"/>
<use href="#lps" transform="translate(616.4,179) rotate(55) scale(1.06)"/>
<use href="#lps" transform="translate(659.2,162.5) rotate(35) scale(1.06)"/>
<use href="#lps" transform="translate(743.4,175.7) rotate(40) scale(1.06)"/>
<use href="#lps" transform="translate(834.6,172.2) rotate(5) scale(1.06)"/>
<use href="#lps" transform="translate(883.6,178.3) rotate(65) scale(1.06)"/>
<g fill="#999999"><circle cx="695.5" cy="62.5" r="7.6"/><circle cx="735.3" cy="55.3" r="7.6"/><circle cx="765.4" cy="70.5" r="7.6"/><circle cx="725.5" cy="82" r="7.6"/><circle cx="791.2" cy="91.5" r="7.6"/><circle cx="673.8" cy="99.2" r="7.6"/><circle cx="714" cy="106" r="7.6"/><circle cx="765.6" cy="106" r="7.6"/><circle cx="710.6" cy="142.8" r="7.6"/><circle cx="739.9" cy="137.2" r="7.6"/><circle cx="767" cy="137.2" r="7.6"/><circle cx="767" cy="153.8" r="7.6"/><circle cx="720" cy="163.6" r="7.6"/><circle cx="733" cy="222.3" r="7.6"/><circle cx="831.6" cy="230" r="7.6"/><circle cx="684" cy="280.3" r="7.6"/><circle cx="741" cy="295.5" r="7.6"/><circle cx="817.7" cy="296.5" r="7.6"/><circle cx="619.4" cy="322.5" r="7.6"/><circle cx="584.4" cy="339" r="7.6"/><circle cx="647.3" cy="345.8" r="7.6"/><circle cx="700.7" cy="334" r="7.6"/><circle cx="546" cy="377" r="7.6"/><circle cx="598" cy="377" r="7.6"/><circle cx="760.7" cy="370" r="7.6"/><circle cx="811" cy="330.4" r="7.6"/><circle cx="838.6" cy="328.7" r="7.6"/><circle cx="894.7" cy="325.7" r="7.6"/><circle cx="915.7" cy="358.5" r="7.6"/><circle cx="910" cy="380" r="7.6"/><circle cx="971.3" cy="408.5" r="7.6"/></g>
<g fill="#0a6b35"><circle cx="446.4" cy="184.9" r="6.8"/><circle cx="468.3" cy="185.6" r="6.8"/><circle cx="520.3" cy="184.9" r="6.8"/><circle cx="1024.4" cy="185" r="6.8"/><circle cx="1046.7" cy="185" r="6.8"/></g>
<use href="#gpr" x="446.4" y="199.4"/>
<use href="#gpr" x="467.6" y="199.4"/>
<use href="#gpr" x="520.3" y="199.4"/>
<use href="#gpr" x="541.5" y="199.4"/>
<use href="#gpr" x="1024.4" y="199.4"/>
<use href="#gpr" x="1046.7" y="199.4"/>
<use href="#gpr" x="604.8" y="206"/>
<use href="#gpr" x="672" y="215"/>
<use href="#gpr" x="746.5" y="206"/>
<use href="#gpr" x="817.9" y="205.5"/>
<use href="#gpr" x="888.6" y="215"/>
<use href="#gpr" x="962.3" y="215"/>
<use href="#rx" x="609.3" y="198.7"/>
<use href="#rx" x="676.5" y="206.5"/>
<use href="#rx" x="751" y="198.7"/>
<use href="#rx" x="822.6" y="197.5"/>
<use href="#rx" x="893" y="206.3"/>
<use href="#rx" x="967.3" y="206.5"/>
<circle cx="887.8" cy="149.5" r="7.2" fill="#0a6b35"/><g stroke="#e8131a" stroke-width="2.5" stroke-linecap="round"><path d="M879.1,145.4 L896.5,153.6"/><path d="M891.3,141.6 L884.3,157.4"/></g>
<circle cx="931.2" cy="142.5" r="7.2" fill="#0a6b35"/><g stroke="#e8131a" stroke-width="2.5" stroke-linecap="round"><path d="M922.5,138.4 L939.9,146.6"/><path d="M934.7,134.6 L927.7,150.4"/></g>
<circle cx="939.4" cy="161.5" r="7.2" fill="#0a6b35"/><g stroke="#e8131a" stroke-width="2.5" stroke-linecap="round"><path d="M930.7,157.4 L948.1,165.6"/><path d="M942.9,153.6 L935.9,169.4"/></g>
<circle cx="980" cy="132.8" r="7.2" fill="#0a6b35"/><g stroke="#e8131a" stroke-width="2.5" stroke-linecap="round"><path d="M971.3,128.7 L988.7,136.9"/><path d="M983.5,124.9 L976.5,140.7"/></g>
<circle cx="999.5" cy="162.3" r="7.2" fill="#0a6b35"/><g stroke="#e8131a" stroke-width="2.5" stroke-linecap="round"><path d="M990.8,158.2 L1008.2,166.4"/><path d="M1003.0,154.4 L996.0,170.2"/></g>
<defs>
<radialGradient id="livL" gradientUnits="userSpaceOnUse" cx="421" cy="683" r="48"><stop offset="0" stop-color="#cb444d"/><stop offset="0.6" stop-color="#b2303a"/><stop offset="1" stop-color="#9c242c"/></radialGradient>
<linearGradient id="livR" gradientUnits="userSpaceOnUse" x1="462" y1="690" x2="500" y2="655"><stop offset="0" stop-color="#a62b31"/><stop offset="0.6" stop-color="#8e1d21"/><stop offset="1" stop-color="#86191d"/></linearGradient>
<linearGradient id="lig" x1="0" y1="0" x2="0" y2="1"><stop offset="0" stop-color="#cf9a4a"/><stop offset="0.4" stop-color="#e2b56a"/><stop offset="1" stop-color="#d9a45a"/></linearGradient>
<radialGradient id="gb" cx="0.45" cy="0.45" r="0.6"><stop offset="0" stop-color="#b4ee6a"/><stop offset="0.6" stop-color="#62a22c"/><stop offset="1" stop-color="#3f7a1c"/></radialGradient>
<radialGradient id="lyg" cx="0.5" cy="0.45" r="0.55"><stop offset="0" stop-color="#ffffff"/><stop offset="0.35" stop-color="#cfe9d2"/><stop offset="0.8" stop-color="#84c48c"/><stop offset="1" stop-color="#6db577"/></radialGradient>
</defs>
<path d="M450.3,470.7 C446.3,471.4 440.7,473.3 437.7,476.3 C434.7,479.3 433.1,484.3 432.4,488.9 C431.7,493.5 432.4,499.0 433.3,504.0 C434.2,509.0 436.4,513.8 437.7,519.0 C438.9,524.2 440.2,530.1 440.8,535.4 C441.4,540.6 440.6,546.1 441.5,550.5 C442.4,554.9 444.0,559.1 446.5,561.8 C449.0,564.5 452.9,566.1 456.5,566.5 C460.1,566.9 464.0,566.8 467.8,564.3 C471.6,561.8 476.2,556.9 479.1,551.7 C482.0,546.5 484.2,539.4 485.4,532.9 C486.6,526.4 486.7,519.5 486.1,512.8 C485.5,506.1 483.9,498.4 481.7,492.7 C479.5,487.0 476.2,482.3 472.9,478.8 C469.5,475.3 465.4,473.2 461.6,471.9 C457.8,470.5 454.3,470.0 450.3,470.7 Z" fill="#e57f7e" stroke="#bf4a2c" stroke-width="1"/>
<g fill="none" stroke-linecap="butt"><path d="M416,536.5 C432,537 444,529 450,517 C453,511 454.5,507 455.5,504" stroke="#e3151b" stroke-width="3.6"/><path d="M448,521 C455,523 460,522 465,520.5 M450,527 C456,529.5 461,529 465,528.5" stroke="#e3151b" stroke-width="1.8"/><path d="M417.5,542.5 C432,541.5 441,538 449,530" stroke="#ffffff" stroke-width="1.6"/><path d="M418,543.5 C436,543 447,536 452,527 C455,521 456.5,515 457.5,510" stroke="#1f6aa5" stroke-width="3.6"/><path d="M452,527 C456,524 459,521 461.5,518.5 M449,532 C455,531.5 460,530.5 464.5,529.5 M446,534.5 C454,533.5 459,535 465.5,536" stroke="#1f6aa5" stroke-width="1.8"/></g>
<path d="M451.5,481.4 C455,486 459,490.5 463,493.5 C467,496 469,499 471,503 C472,506.5 471.5,509 473.5,512 C476,515 474.5,518.5 476.5,521.5 C479,525 477.5,529 479.5,532 C481,535 479.5,539 478,541.5 C475,546 471,551 466.5,556" fill="none" stroke="#bf4a2c" stroke-width="0.9"/>
<path d="M454.6,492 C453,497 454,503 457,509 C461,517 465,525 466,533 C466.8,540 466,546 466,547.5" fill="none" stroke="#bf4a2c" stroke-width="0.9"/>
<path d="M455,492 C458,497 463,497 466,501 C470,507 472,515 474,522 C476,530 479,535 477,540 C474,546 470,550 466,547 C467,538 465,527 461,517 C457,508 453,500 455,492 Z" fill="#e98b8c" opacity="0.7"/>
<g fill="none" stroke="#f6cfd3" stroke-linecap="round"><path d="M455.5,483.5 C458,486 461,488.5 463.5,490" stroke-width="2"/><path d="M469.5,499.5 L471.5,503" stroke-width="1.4"/><path d="M458,507 C462,514 467,523 469,531" stroke-width="2" opacity="0.75"/><path d="M470.5,549 C473,546.5 475,544 476.5,541.5" stroke-width="1.4"/><path d="M477,523 L478,527" stroke-width="1.2"/></g>
<circle cx="470.5" cy="535" r="1.5" fill="#f3bfc6"/>
<path d="M610.0,468.2 C608.5,468.0 607.2,468.5 605.6,471.3 C604.0,474.1 602.1,480.1 600.6,485.1 C599.1,490.1 597.5,495.2 596.8,501.5 C596.1,507.8 596.3,516.1 596.2,522.8 C596.1,529.5 596.3,536.2 596.0,541.7 C595.7,547.2 594.0,551.5 594.3,555.5 C594.5,559.5 595.5,563.5 597.5,565.5 C599.5,567.5 603.8,568.2 606.3,567.8 C608.8,567.4 610.9,565.4 612.5,563.0 C614.1,560.6 614.0,554.9 615.7,553.6 C617.4,552.4 620.0,554.2 622.6,555.5 C625.2,556.8 629.0,560.7 631.4,561.1 C633.8,561.5 635.9,560.2 637.0,558.0 C638.1,555.8 638.5,552.5 638.3,547.9 C638.1,543.3 636.8,535.8 635.8,530.4 C634.8,525.0 633.3,520.8 632.6,515.3 C631.9,509.8 631.6,503.1 631.4,497.7 C631.2,492.2 631.8,486.5 631.4,482.6 C631.0,478.7 629.9,475.8 628.9,474.4 C627.9,473.0 626.4,472.7 625.1,474.1 C623.8,475.5 622.4,478.0 621.3,482.6 C620.1,487.2 618.9,497.2 618.2,501.5 C617.5,505.8 616.9,508.5 616.9,508.5 C616.9,508.5 615.3,505.4 615.0,501.5 C614.7,497.6 615.1,489.9 615.0,485.1 C614.9,480.3 615.2,475.4 614.4,472.6 C613.6,469.8 611.5,468.4 610.0,468.2 Z" fill="#fc9e10" stroke="#b7690a" stroke-width="0.9"/>
<g stroke="#cf7608" stroke-width="1" stroke-linecap="round"><path d="M610.4,473.0 v2.2"/><path d="M607.6,479.2 v2.2"/><path d="M628.4,477.8 v2.2"/><path d="M603.1,484.6 v2.2"/><path d="M610.4,484.3 v2.2"/><path d="M624.7,483.7 v2.2"/><path d="M606.5,489.0 v2.2"/><path d="M629.1,490.3 v2.2"/><path d="M604.0,495.1 v2.2"/><path d="M609.7,495.5 v2.2"/><path d="M624.1,495.0 v2.2"/><path d="M599.0,500.2 v2.2"/><path d="M607.3,500.4 v2.2"/><path d="M627.8,501.1 v2.2"/><path d="M604.0,507.0 v2.2"/><path d="M610.1,507.1 v2.2"/><path d="M625.4,506.7 v2.2"/><path d="M600.0,511.8 v2.2"/><path d="M606.5,511.4 v2.2"/><path d="M613.3,512.2 v2.2"/><path d="M620.8,512.3 v2.2"/><path d="M628.2,512.0 v2.2"/><path d="M602.7,517.1 v2.2"/><path d="M611.1,518.2 v2.2"/><path d="M617.2,517.2 v2.2"/><path d="M625.2,518.4 v2.2"/><path d="M631.5,518.4 v2.2"/><path d="M599.5,522.7 v2.2"/><path d="M606.1,524.0 v2.2"/><path d="M613.6,523.6 v2.2"/><path d="M620.8,523.8 v2.2"/><path d="M628.6,523.0 v2.2"/><path d="M603.3,529.5 v2.2"/><path d="M610.6,528.5 v2.2"/><path d="M618.3,528.4 v2.2"/><path d="M624.0,528.5 v2.2"/><path d="M631.9,528.2 v2.2"/><path d="M599.7,533.9 v2.2"/><path d="M606.6,535.1 v2.2"/><path d="M614.8,534.8 v2.2"/><path d="M621.5,534.6 v2.2"/><path d="M627.8,533.8 v2.2"/><path d="M602.4,540.3 v2.2"/><path d="M610.4,540.5 v2.2"/><path d="M617.3,540.9 v2.2"/><path d="M624.1,540.2 v2.2"/><path d="M632.4,540.7 v2.2"/><path d="M600.1,546.4 v2.2"/><path d="M606.6,546.0 v2.2"/><path d="M614.6,546.3 v2.2"/><path d="M621.1,546.2 v2.2"/><path d="M629.0,545.8 v2.2"/><path d="M602.5,551.5 v2.2"/><path d="M611.2,551.9 v2.2"/><path d="M625.2,551.4 v2.2"/><path d="M631.9,551.8 v2.2"/><path d="M598.8,557.1 v2.2"/><path d="M606.8,556.5 v2.2"/><path d="M628.0,556.1 v2.2"/><path d="M603.8,562.8 v2.2"/><path d="M610.3,563.1 v2.2"/></g>
<path d="M571.3,540.2 H584.5" stroke="#6b6360" stroke-width="0.5"/>
<path d="M463.5,695.3 C464.0,697.2 463.2,693.1 465.4,691.6 C467.6,690.1 472.3,689.6 476.7,686.5 C481.1,683.4 487.3,677.1 491.7,672.7 C496.1,668.3 501.0,662.9 503.0,660.2 C505.0,657.5 504.5,657.6 503.7,656.5 C502.9,655.4 501.9,654.4 498.0,653.7 C494.1,653.0 485.3,652.4 480.0,652.3 C474.7,652.1 468.9,651.8 466.0,652.8 C463.1,653.8 463.3,655.5 462.5,658.0 C461.7,660.5 461.0,664.3 461.0,668.0 C461.0,671.7 461.9,675.5 462.3,680.0 C462.7,684.5 463.0,693.4 463.5,695.3 Z" fill="url(#livR)"/>
<path d="M431.4,653.2 C431.4,653.2 450.0,652.0 450.0,652.0 C450.0,652.0 476.0,652.2 476.0,652.2 C476.0,652.2 468.3,652.2 466.0,653.5 C463.7,654.8 462.9,656.9 462.2,660.0 C461.4,663.1 461.3,667.8 461.5,672.0 C461.7,676.2 462.8,681.1 463.5,685.0 C464.2,688.9 465.4,693.4 465.6,695.5 C465.8,697.6 464.5,697.5 464.5,697.5 C464.5,697.5 463.4,697.9 462.5,695.0 C461.6,692.1 460.8,685.0 459.0,680.0 C457.2,675.0 454.7,668.9 452.0,665.0 C449.3,661.1 446.4,658.5 443.0,656.5 C439.6,654.5 431.4,653.2 431.4,653.2 Z" fill="url(#lig)"/>
<path d="M431.4,653.2 C428.2,654.5 421.5,657.3 417.6,661.4 C413.7,665.5 410.1,672.1 408.2,677.7 C406.3,683.4 405.8,689.4 406.3,695.3 C406.8,701.2 408.6,707.7 411.3,712.9 C414.0,718.1 422.6,726.7 422.6,726.7 C422.6,726.7 426.6,727.6 428.3,726.1 C430.0,724.6 429.9,721.1 432.7,717.9 C435.5,714.6 441.1,710.0 445.3,706.6 C449.5,703.2 454.9,699.8 457.8,697.8 C460.8,695.8 463.0,694.6 463.0,694.6 C463.0,694.6 461.6,685.3 460.0,680.5 C458.4,675.7 456.2,670.0 453.5,666.0 C450.8,662.0 446.8,658.6 444.0,656.5 C441.2,654.4 439.1,653.9 437.0,653.4 C434.9,652.9 434.6,651.9 431.4,653.2 Z" fill="url(#livL)"/>
<path d="M413.5,717.5 C416.5,722 419.5,725 422.6,726.7 C425,727.2 427.5,727 428.3,726.1 C430,722 431.5,719.5 433.5,717.2 C438,712.5 443,708.5 446.5,705.5 C440,709 432,714 427,719 C424,722 421,722.5 413.5,717.5 Z" fill="#8c1c22"/>
<path d="M446.2,705.6 C441,707 436,708.5 432.5,711 L437.5,716.5 C439.5,712 442.5,708.5 446.2,705.6 Z" fill="#4d8a22"/>
<circle cx="434.8" cy="714.8" r="4.9" fill="url(#gb)"/>
<g fill="none" stroke="#6db577" stroke-linecap="round"><path d="M637.6,628 L638.4,638" stroke-width="2.4"/><path d="M637.8,660 L636.2,669" stroke-width="2.4"/><path d="M623.5,694.5 L618,700" stroke-width="2.4"/><path d="M598,715 C593,716.7 588,717 583,716.6" stroke-width="2.2"/></g>
<path d="M637.3,627.5 L639.6,638 H636.6 Z" fill="#6db577"/>
<ellipse cx="639.9" cy="648.3" rx="9.8" ry="12.6" fill="url(#lyg)" transform="rotate(-6 639.9 648.3)"/>
<ellipse cx="631.8" cy="682.3" rx="11.2" ry="14.6" fill="url(#lyg)" transform="rotate(22 631.8 682.3)"/>
<ellipse cx="608.1" cy="707.9" rx="12.6" ry="10" fill="url(#lyg)" transform="rotate(-28 608.1 707.9)"/>
<path d="M942.2,554.9 C940.0,552.8 926.9,552.0 921.2,551.3 C915.6,550.6 909.2,550.3 904.5,550.3 C899.8,550.2 893.3,550.1 889.8,550.9 C886.4,551.7 883.2,553.1 881.4,555.5 C879.6,557.9 877.7,563.7 877.7,567.0 C877.7,570.3 879.3,574.7 881.4,577.5 C883.6,580.3 888.8,583.7 891.9,585.9 C895.0,588.1 899.6,590.6 902.4,592.2 C905.1,593.8 910.3,596.4 910.3,596.4 C910.3,596.4 911.3,594.2 910.8,592.2 C910.3,590.1 906.7,584.7 907.0,582.8 C907.3,580.8 912.9,579.2 912.9,579.2 C912.9,579.2 902.5,580.2 899.2,579.6 C895.9,579.0 892.8,577.2 890.9,575.4 C888.9,573.7 886.5,570.1 886.0,568.1 C885.6,566.0 886.4,563.2 887.7,561.8 C889.1,560.4 891.3,559.1 895.0,558.7 C898.8,558.3 908.0,558.5 912.9,559.1 C917.7,559.6 924.1,561.5 927.5,562.4 C931.0,563.4 933.7,566.5 935.9,565.4 C938.1,564.2 944.4,557.0 942.2,554.9 Z" fill="#d98a87" stroke="#9a4045" stroke-width="0.9" stroke-linejoin="round"/>
<ellipse cx="1015.5" cy="586.5" rx="11.6" ry="9.2" fill="#f29c22"/><g fill="#f6ae3c" stroke="#e08a18" stroke-width="0.55"><circle cx="1011.2" cy="578.9" r="1.55"/><circle cx="1014.1" cy="578.9" r="1.55"/><circle cx="1017.0" cy="578.9" r="1.55"/><circle cx="1019.9" cy="578.9" r="1.55"/><circle cx="1006.8" cy="581.4" r="1.55"/><circle cx="1009.7" cy="581.4" r="1.55"/><circle cx="1012.6" cy="581.4" r="1.55"/><circle cx="1015.5" cy="581.4" r="1.55"/><circle cx="1018.4" cy="581.4" r="1.55"/><circle cx="1021.3" cy="581.4" r="1.55"/><circle cx="1024.2" cy="581.4" r="1.55"/><circle cx="1005.4" cy="584.0" r="1.55"/><circle cx="1008.3" cy="584.0" r="1.55"/><circle cx="1011.2" cy="584.0" r="1.55"/><circle cx="1014.1" cy="584.0" r="1.55"/><circle cx="1017.0" cy="584.0" r="1.55"/><circle cx="1019.9" cy="584.0" r="1.55"/><circle cx="1022.8" cy="584.0" r="1.55"/><circle cx="1025.7" cy="584.0" r="1.55"/><circle cx="1003.9" cy="586.5" r="1.55"/><circle cx="1006.8" cy="586.5" r="1.55"/><circle cx="1009.7" cy="586.5" r="1.55"/><circle cx="1012.6" cy="586.5" r="1.55"/><circle cx="1015.5" cy="586.5" r="1.55"/><circle cx="1018.4" cy="586.5" r="1.55"/><circle cx="1021.3" cy="586.5" r="1.55"/><circle cx="1024.2" cy="586.5" r="1.55"/><circle cx="1027.1" cy="586.5" r="1.55"/><circle cx="1005.4" cy="589.1" r="1.55"/><circle cx="1008.3" cy="589.1" r="1.55"/><circle cx="1011.2" cy="589.1" r="1.55"/><circle cx="1014.1" cy="589.1" r="1.55"/><circle cx="1017.0" cy="589.1" r="1.55"/><circle cx="1019.9" cy="589.1" r="1.55"/><circle cx="1022.8" cy="589.1" r="1.55"/><circle cx="1025.7" cy="589.1" r="1.55"/><circle cx="1006.8" cy="591.6" r="1.55"/><circle cx="1009.7" cy="591.6" r="1.55"/><circle cx="1012.6" cy="591.6" r="1.55"/><circle cx="1015.5" cy="591.6" r="1.55"/><circle cx="1018.4" cy="591.6" r="1.55"/><circle cx="1021.3" cy="591.6" r="1.55"/><circle cx="1024.2" cy="591.6" r="1.55"/><circle cx="1011.2" cy="594.2" r="1.55"/><circle cx="1014.1" cy="594.2" r="1.55"/><circle cx="1017.0" cy="594.2" r="1.55"/><circle cx="1019.9" cy="594.2" r="1.55"/></g>
<path d="M986.2,554.9 C988.4,552.8 1001.5,552.0 1007.1,551.3 C1012.8,550.6 1019.2,550.3 1023.9,550.3 C1028.6,550.2 1035.1,550.1 1038.6,550.9 C1042.0,551.7 1045.1,553.1 1046.9,555.5 C1048.8,557.9 1050.7,563.7 1050.7,567.0 C1050.7,570.3 1049.1,574.7 1046.9,577.5 C1044.8,580.3 1039.6,583.7 1036.5,585.9 C1033.3,588.1 1028.8,590.6 1026.0,592.2 C1023.2,593.8 1018.0,596.4 1018.0,596.4 C1018.0,596.4 1017.1,594.2 1017.6,592.2 C1018.1,590.1 1021.7,584.7 1021.4,582.8 C1021.1,580.8 1015.5,579.2 1015.5,579.2 C1015.5,579.2 1025.8,580.2 1029.1,579.6 C1032.4,579.0 1035.5,577.2 1037.5,575.4 C1039.5,573.7 1041.9,570.1 1042.3,568.1 C1042.8,566.0 1042.0,563.2 1040.7,561.8 C1039.3,560.4 1037.1,559.1 1033.3,558.7 C1029.6,558.3 1020.4,558.5 1015.5,559.1 C1010.6,559.6 1004.3,561.5 1000.8,562.4 C997.4,563.4 994.7,566.5 992.5,565.4 C990.3,564.2 984.0,557.0 986.2,554.9 Z" fill="#d98a87" stroke="#9a4045" stroke-width="0.9" stroke-linejoin="round"/>
<ellipse cx="918.5" cy="586.5" rx="11.6" ry="9.2" fill="#f29c22"/><g fill="#f6ae3c" stroke="#e08a18" stroke-width="0.55"><circle cx="914.2" cy="578.9" r="1.55"/><circle cx="917.1" cy="578.9" r="1.55"/><circle cx="920.0" cy="578.9" r="1.55"/><circle cx="922.9" cy="578.9" r="1.55"/><circle cx="909.8" cy="581.4" r="1.55"/><circle cx="912.7" cy="581.4" r="1.55"/><circle cx="915.6" cy="581.4" r="1.55"/><circle cx="918.5" cy="581.4" r="1.55"/><circle cx="921.4" cy="581.4" r="1.55"/><circle cx="924.3" cy="581.4" r="1.55"/><circle cx="927.2" cy="581.4" r="1.55"/><circle cx="908.4" cy="584.0" r="1.55"/><circle cx="911.3" cy="584.0" r="1.55"/><circle cx="914.2" cy="584.0" r="1.55"/><circle cx="917.1" cy="584.0" r="1.55"/><circle cx="920.0" cy="584.0" r="1.55"/><circle cx="922.9" cy="584.0" r="1.55"/><circle cx="925.8" cy="584.0" r="1.55"/><circle cx="928.7" cy="584.0" r="1.55"/><circle cx="906.9" cy="586.5" r="1.55"/><circle cx="909.8" cy="586.5" r="1.55"/><circle cx="912.7" cy="586.5" r="1.55"/><circle cx="915.6" cy="586.5" r="1.55"/><circle cx="918.5" cy="586.5" r="1.55"/><circle cx="921.4" cy="586.5" r="1.55"/><circle cx="924.3" cy="586.5" r="1.55"/><circle cx="927.2" cy="586.5" r="1.55"/><circle cx="930.1" cy="586.5" r="1.55"/><circle cx="908.4" cy="589.1" r="1.55"/><circle cx="911.3" cy="589.1" r="1.55"/><circle cx="914.2" cy="589.1" r="1.55"/><circle cx="917.1" cy="589.1" r="1.55"/><circle cx="920.0" cy="589.1" r="1.55"/><circle cx="922.9" cy="589.1" r="1.55"/><circle cx="925.8" cy="589.1" r="1.55"/><circle cx="928.7" cy="589.1" r="1.55"/><circle cx="909.8" cy="591.6" r="1.55"/><circle cx="912.7" cy="591.6" r="1.55"/><circle cx="915.6" cy="591.6" r="1.55"/><circle cx="918.5" cy="591.6" r="1.55"/><circle cx="921.4" cy="591.6" r="1.55"/><circle cx="924.3" cy="591.6" r="1.55"/><circle cx="927.2" cy="591.6" r="1.55"/><circle cx="914.2" cy="594.2" r="1.55"/><circle cx="917.1" cy="594.2" r="1.55"/><circle cx="920.0" cy="594.2" r="1.55"/><circle cx="922.9" cy="594.2" r="1.55"/></g>
<path d="M945.3,614.8 C945.3,614.8 959.2,615.9 964.2,615.9 C969.2,615.9 983.0,614.8 983.0,614.8 C983.0,614.8 983.1,621.3 982.4,623.6 C981.8,625.9 979.1,629.8 978.2,632.0 C977.3,634.2 976.2,637.0 975.7,640.4 C975.2,643.7 974.5,657.1 974.5,657.1 C974.5,657.1 956.0,657.1 956.0,657.1 C956.0,657.1 955.0,643.7 954.3,640.4 C953.7,637.0 952.1,634.2 951.0,632.0 C949.9,629.8 946.7,625.9 946.0,623.6 C945.2,621.3 945.3,614.8 945.3,614.8 Z" fill="#b96467" stroke="#9a4045" stroke-width="0.9"/>
<path d="M940.1,557.6 C942.4,555.4 944.9,553.5 948.5,552.4 C952.1,551.2 959.5,549.9 964.2,549.9 C968.9,549.9 976.3,551.2 979.9,552.4 C983.5,553.5 985.9,555.4 988.3,557.6 C990.6,559.8 994.2,563.7 995.6,567.0 C997.1,570.3 998.1,576.2 997.9,579.6 C997.8,583.1 996.3,587.3 994.6,590.1 C992.8,592.9 988.2,596.6 986.2,598.5 C984.1,600.4 982.0,601.1 980.9,602.7 C979.9,604.2 979.1,607.1 979.5,608.9 C979.8,610.8 983.2,614.8 983.2,614.8 C983.2,614.8 969.9,615.9 964.2,615.9 C958.5,615.9 945.1,614.8 945.1,614.8 C945.1,614.8 948.1,610.8 948.5,608.9 C948.8,607.1 948.4,604.2 947.4,602.7 C946.5,601.1 944.2,600.4 942.2,598.5 C940.2,596.6 935.9,592.9 934.2,590.1 C932.6,587.3 931.4,583.1 931.3,579.6 C931.2,576.2 932.1,570.3 933.4,567.0 C934.7,563.7 937.8,559.8 940.1,557.6 Z" fill="#d98a87" stroke="#9a4045" stroke-width="0.9"/>
<path d="M943.2,559.7 C952.7,554.1 969.4,552.4 978.2,554.9 C967.3,554.9 952.7,556.1 943.2,559.7 Z" fill="#f0b5b2"/>
<!-- legend -->
<g font-size="24.5" fill="#000">
<text x="84.2" y="531" textLength="178" lengthAdjust="spacingAndGlyphs">Intestinal barrier</text>
<text x="84.4" y="589" textLength="138" lengthAdjust="spacingAndGlyphs">Zearalenone</text>
<text x="84" y="647.6" fill="#333" textLength="44.6" lengthAdjust="spacingAndGlyphs">LPS</text>
<text x="84" y="705.8" fill="#333" textLength="90.6" lengthAdjust="spacingAndGlyphs">Butyrate</text>
<text x="84.5" y="764.4" fill="#333" textLength="108.2" lengthAdjust="spacingAndGlyphs">GPR109A</text>
<text x="84.2" y="822.4" textLength="258.7" lengthAdjust="spacingAndGlyphs">Proinflammatory factors</text>
<text x="84.2" y="881" textLength="106.2" lengthAdjust="spacingAndGlyphs">Increased</text>
<text x="84.2" y="939" textLength="116" lengthAdjust="spacingAndGlyphs">Decreased</text>
</g>
<circle cx="37.2" cy="582.4" r="9.6" fill="#999"/>
<use href="#lps" transform="translate(37.3,636.8) rotate(7) scale(1.52,1.5)"/>
<circle cx="37.2" cy="699" r="9.6" fill="#0a6b35"/>
<g fill="none" stroke="#0a6b35" stroke-width="5.8"><path d="M25.8,743.4 C25.8,753 30.5,758 37.5,758 C44.5,758 49.2,753 49.2,743.4"/><path d="M37.5,757 V771.6"/></g>
<circle cx="37.4" cy="816.4" r="9.9" fill="#c70000"/>
<use href="#upA" x="37.4" y="871"/>
<use href="#dnA" x="37.4" y="936.1"/>

<g stroke="#1f6fb8" stroke-width="2.1" stroke-linecap="round" fill="none"><path d="M33.6,505.0 L40.6,511.5"/><path d="M40.6,505.5 L33.6,512.0"/><path d="M33.6,511.0 L40.6,517.5"/><path d="M40.6,511.5 L33.6,518.0"/><path d="M33.6,517.0 L40.6,523.5"/><path d="M40.6,517.5 L33.6,524.0"/><path d="M33.6,523.0 L40.6,529.5"/><path d="M40.6,523.5 L33.6,530.0"/><path d="M33.6,529.0 L40.6,535.5"/><path d="M40.6,529.5 L33.6,536.0"/><path d="M33.6,535.0 L40.6,541.5"/><path d="M40.6,535.5 L33.6,542.0"/></g>
<g transform="translate(-179.80,413.12) scale(0.44)"><path d="M427.5,280 V189.3 C427.7,183.7 432.5,183.7 432.7,190.3 C432.9,199.0 432.9,207.0 434.8,207.0 C436.7,207.0 436.7,199.0 436.9,182.0 L436.9,182.0 C437.1,175.4 443.3,175.4 443.5,182.0 C443.7,199.0 444.0,207.0 445.9,207.0 C447.8,207.0 448.1,199.0 448.3,176.0 L448.3,176.0 C448.5,169.4 454.3,169.4 454.5,176.0 C454.7,199.0 454.4,207.0 456.2,207.0 C458.1,207.0 457.8,199.0 458.0,183.0 L458.0,183.0 C458.2,176.4 463.2,176.4 463.4,183.0 C463.6,199.0 463.9,207.0 465.8,207.0 C467.7,207.0 468.0,199.0 468.2,183.6 L468.2,183.6 C468.4,177.0 474.0,177.0 474.2,183.6 C474.4,199.0 474.1,207.0 476.0,207.0 C477.9,207.0 477.5,199.0 477.7,177.0 L477.7,177.0 C477.9,170.4 484.3,170.4 484.5,177.0 L484.5,280 C484.5,298 472.5,307.5 462.0,307.5 H450.0 C439.5,307.5 427.5,298 427.5,280 Z" fill="url(#cellg)" stroke="#c9a78c" stroke-width="2.2" stroke-linejoin="round"/><ellipse cx="456.0" cy="272" rx="14.6" ry="16.2" fill="url(#nucg)" stroke="#b98486" stroke-width="2.2"/></g>
<g transform="translate(-146.90,413.12) scale(0.44)"><path d="M427.5,280 V189.3 C427.7,183.7 432.5,183.7 432.7,190.3 C432.9,199.0 432.9,207.0 434.8,207.0 C436.7,207.0 436.7,199.0 436.9,182.0 L436.9,182.0 C437.1,175.4 443.3,175.4 443.5,182.0 C443.7,199.0 444.0,207.0 445.9,207.0 C447.8,207.0 448.1,199.0 448.3,176.0 L448.3,176.0 C448.5,169.4 454.3,169.4 454.5,176.0 C454.7,199.0 454.4,207.0 456.2,207.0 C458.1,207.0 457.8,199.0 458.0,183.0 L458.0,183.0 C458.2,176.4 463.2,176.4 463.4,183.0 C463.6,199.0 463.9,207.0 465.8,207.0 C467.7,207.0 468.0,199.0 468.2,183.6 L468.2,183.6 C468.4,177.0 474.0,177.0 474.2,183.6 C474.4,199.0 474.1,207.0 476.0,207.0 C477.9,207.0 477.5,199.0 477.7,177.0 L477.7,177.0 C477.9,170.4 484.3,170.4 484.5,177.0 L484.5,280 C484.5,298 472.5,307.5 462.0,307.5 H450.0 C439.5,307.5 427.5,298 427.5,280 Z" fill="url(#cellg)" stroke="#c9a78c" stroke-width="2.2" stroke-linejoin="round"/><ellipse cx="456.0" cy="272" rx="14.6" ry="16.2" fill="url(#nucg)" stroke="#b98486" stroke-width="2.2"/></g>
<!-- result boxes -->
<g font-size="20.4" fill="#000">
<text class="b" x="392" y="800">1)</text><text class="b" x="433" y="800" textLength="248.5" lengthAdjust="spacingAndGlyphs">Pathomorphism changes:</text>
<text x="471.8" y="822.7" textLength="175.5" lengthAdjust="spacingAndGlyphs">inflammatory lesion</text>
<text x="471.8" y="845.4" textLength="141" lengthAdjust="spacingAndGlyphs">oxidative stress</text>
<text class="b" x="392" y="876.6">2)</text><text class="b" x="433" y="876.6">Signaling pathway:</text>
<text x="477.5" y="899.5" textLength="107.5" lengthAdjust="spacingAndGlyphs">NF-kappa B</text>
<text x="478.3" y="922.8" textLength="53.5" lengthAdjust="spacingAndGlyphs">CAMs</text>
<text class="b" x="821.5" y="764">1)</text><text class="b" x="892" y="764">Uterine size</text>
<text class="b" x="821.5" y="799.3">2)</text><text class="b" x="862" y="799.3" textLength="249" lengthAdjust="spacingAndGlyphs">Pathomorphism changes:</text>
<text x="896" y="822.8" textLength="176" lengthAdjust="spacingAndGlyphs">inflammatory lesion</text>
<text x="896" y="846" textLength="141" lengthAdjust="spacingAndGlyphs">oxidative stress</text>
<text class="b" x="821.5" y="874.9">3)</text><text class="b" x="862" y="874.9">Signaling pathway:</text>
<text x="896" y="898.5">interleukin/TNF</text>
<text x="896" y="921.5">C-C motif chemokine</text>
</g>
<g id="smallarrows">
<use href="#upA" transform="translate(448,814.2) scale(0.555)"/>
<use href="#upA" transform="translate(448,838.5) scale(0.555)"/>
<use href="#upA" transform="translate(448,892) scale(0.555)"/>
<use href="#dnA" transform="translate(448,918.1) scale(0.555)"/>
<use href="#upA" transform="translate(882.6,757.4) scale(0.555)"/>
<use href="#upA" transform="translate(883.4,814.6) scale(0.555)"/>
<use href="#upA" transform="translate(883.4,840.2) scale(0.555)"/>
<use href="#upA" transform="translate(883.4,891.1) scale(0.555)"/>
<use href="#dnA" transform="translate(883.4,917.4) scale(0.555)"/>
</g>

</svg>
</body></html>
